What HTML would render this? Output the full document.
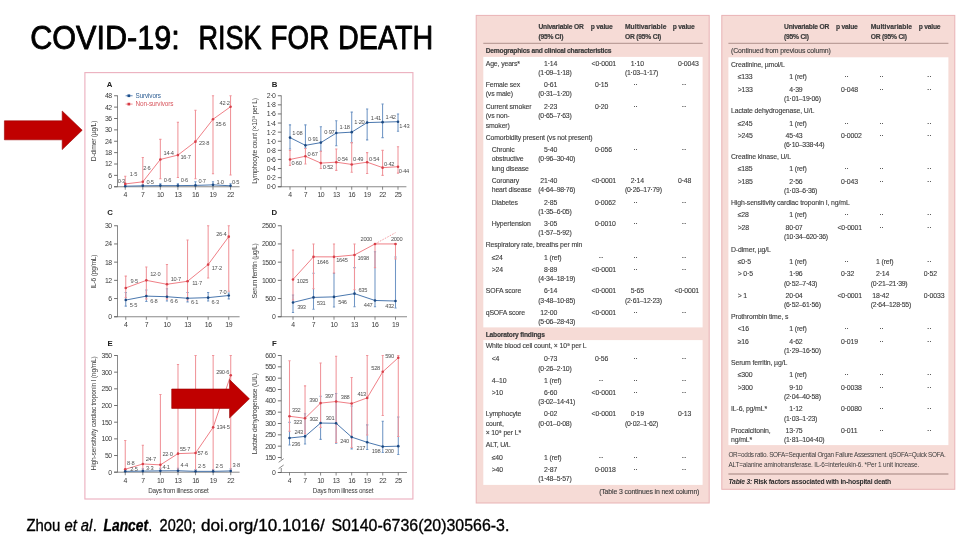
<!DOCTYPE html>
<html><head><meta charset="utf-8"><title>COVID-19: Risk for death</title>
<style>html,body{margin:0;padding:0;background:#fff;}body{width:960px;height:540px;overflow:hidden;font-family:"Liberation Sans",sans-serif;}svg{display:block;}text{font-family:"Liberation Sans",sans-serif;}</style>
</head><body>
<svg width="960" height="540" viewBox="0 0 960 540">
<defs><filter id="blur" x="-2%" y="-2%" width="104%" height="104%"><feGaussianBlur stdDeviation="0.5"/></filter><filter id="blur2" x="-5%" y="-20%" width="110%" height="140%"><feGaussianBlur stdDeviation="0.35"/></filter></defs>
<rect width="960" height="540" fill="#fff"/>
<g filter="url(#blur2)">
<text x="30.2" y="48.9" font-size="33.7" fill="#000" stroke="#000" stroke-width="0.85" stroke-linejoin="round" textLength="149.6" lengthAdjust="spacingAndGlyphs">COVID-19:</text>
<text x="198.4" y="48.9" font-size="33.7" fill="#000" stroke="#000" stroke-width="0.85" stroke-linejoin="round" textLength="63.2" lengthAdjust="spacingAndGlyphs">RISK</text>
<text x="270.6" y="48.9" font-size="33.7" fill="#000" stroke="#000" stroke-width="0.85" stroke-linejoin="round" textLength="58.6" lengthAdjust="spacingAndGlyphs">FOR</text>
<text x="338.0" y="48.9" font-size="33.7" fill="#000" stroke="#000" stroke-width="0.85" stroke-linejoin="round" textLength="95.2" lengthAdjust="spacingAndGlyphs">DEATH</text>
</g>
<g filter="url(#blur)" font-family="Liberation Sans, sans-serif">
<rect x="84.9" y="72.6" width="328.0" height="426.4" fill="#fff" stroke="#ecb2c0" stroke-width="1.15"/>
<text x="109.60" y="86.80" font-size="7.8" text-anchor="middle" font-weight="bold" fill="#222">A</text>
<path d="M125.25 185.04V186.75M124.15 185.04h2.2" stroke="#7096c5" stroke-width="1.05" fill="none"/>
<path d="M142.80 184.47V186.75M141.70 184.47h2.2" stroke="#7096c5" stroke-width="1.05" fill="none"/>
<path d="M160.35 183.72V186.75M159.25 183.72h2.2" stroke="#7096c5" stroke-width="1.05" fill="none"/>
<path d="M177.90 183.72V186.75M176.80 183.72h2.2" stroke="#7096c5" stroke-width="1.05" fill="none"/>
<path d="M195.45 181.82V186.75M194.35 181.82h2.2" stroke="#7096c5" stroke-width="1.05" fill="none"/>
<path d="M213.00 181.82V186.75M211.90 181.82h2.2" stroke="#7096c5" stroke-width="1.05" fill="none"/>
<path d="M230.55 183.72V186.75M229.45 183.72h2.2" stroke="#7096c5" stroke-width="1.05" fill="none"/>
<path d="M125.25 176.32V186.37M124.15 176.32h2.2" stroke="#f0949a" stroke-width="1.05" fill="none"/>
<path d="M142.80 157.55V185.99M141.70 157.55h2.2M141.70 185.99h2.2" stroke="#f0949a" stroke-width="1.05" fill="none"/>
<path d="M160.35 139.35V178.79M159.25 139.35h2.2M159.25 178.79h2.2" stroke="#f0949a" stroke-width="1.05" fill="none"/>
<path d="M177.90 122.29V177.46M176.80 122.29h2.2M176.80 177.46h2.2" stroke="#f0949a" stroke-width="1.05" fill="none"/>
<path d="M195.45 110.16V178.79M194.35 110.16h2.2M194.35 178.79h2.2" stroke="#f0949a" stroke-width="1.05" fill="none"/>
<path d="M213.00 95.75V173.67M211.90 95.75h2.2M211.90 173.67h2.2" stroke="#f0949a" stroke-width="1.05" fill="none"/>
<path d="M230.55 95.75V175.00M229.45 95.75h2.2M229.45 175.00h2.2" stroke="#f0949a" stroke-width="1.05" fill="none"/>
<path d="M117.50 95.45V186.75" stroke="#585858" stroke-width="0.7" fill="none"/>
<path d="M114.10 186.75H239.60" stroke="#585858" stroke-width="0.7" fill="none"/>
<line x1="114.10" y1="186.75" x2="117.50" y2="186.75" stroke="#585858" stroke-width="0.85"/>
<text x="111.70" y="189.20" font-size="6.9" text-anchor="end" letter-spacing="-0.45" fill="#3a3a3a">0</text>
<line x1="114.10" y1="175.38" x2="117.50" y2="175.38" stroke="#585858" stroke-width="0.85"/>
<text x="111.70" y="177.82" font-size="6.9" text-anchor="end" letter-spacing="-0.45" fill="#3a3a3a">6</text>
<line x1="114.10" y1="164.00" x2="117.50" y2="164.00" stroke="#585858" stroke-width="0.85"/>
<text x="111.70" y="166.45" font-size="6.9" text-anchor="end" letter-spacing="-0.45" fill="#3a3a3a">12</text>
<line x1="114.10" y1="152.62" x2="117.50" y2="152.62" stroke="#585858" stroke-width="0.85"/>
<text x="111.70" y="155.07" font-size="6.9" text-anchor="end" letter-spacing="-0.45" fill="#3a3a3a">18</text>
<line x1="114.10" y1="141.25" x2="117.50" y2="141.25" stroke="#585858" stroke-width="0.85"/>
<text x="111.70" y="143.70" font-size="6.9" text-anchor="end" letter-spacing="-0.45" fill="#3a3a3a">24</text>
<line x1="114.10" y1="129.88" x2="117.50" y2="129.88" stroke="#585858" stroke-width="0.85"/>
<text x="111.70" y="132.32" font-size="6.9" text-anchor="end" letter-spacing="-0.45" fill="#3a3a3a">30</text>
<line x1="114.10" y1="118.50" x2="117.50" y2="118.50" stroke="#585858" stroke-width="0.85"/>
<text x="111.70" y="120.95" font-size="6.9" text-anchor="end" letter-spacing="-0.45" fill="#3a3a3a">36</text>
<line x1="114.10" y1="107.12" x2="117.50" y2="107.12" stroke="#585858" stroke-width="0.85"/>
<text x="111.70" y="109.58" font-size="6.9" text-anchor="end" letter-spacing="-0.45" fill="#3a3a3a">42</text>
<line x1="114.10" y1="95.75" x2="117.50" y2="95.75" stroke="#585858" stroke-width="0.85"/>
<text x="111.70" y="98.20" font-size="6.9" text-anchor="end" letter-spacing="-0.45" fill="#3a3a3a">48</text>
<line x1="125.25" y1="186.75" x2="125.25" y2="189.75" stroke="#585858" stroke-width="0.7"/>
<text x="125.25" y="197.15" font-size="6.9" text-anchor="middle" letter-spacing="-0.45" fill="#3a3a3a">4</text>
<line x1="142.80" y1="186.75" x2="142.80" y2="189.75" stroke="#585858" stroke-width="0.7"/>
<text x="142.80" y="197.15" font-size="6.9" text-anchor="middle" letter-spacing="-0.45" fill="#3a3a3a">7</text>
<line x1="160.35" y1="186.75" x2="160.35" y2="189.75" stroke="#585858" stroke-width="0.7"/>
<text x="160.35" y="197.15" font-size="6.9" text-anchor="middle" letter-spacing="-0.45" fill="#3a3a3a">10</text>
<line x1="177.90" y1="186.75" x2="177.90" y2="189.75" stroke="#585858" stroke-width="0.7"/>
<text x="177.90" y="197.15" font-size="6.9" text-anchor="middle" letter-spacing="-0.45" fill="#3a3a3a">13</text>
<line x1="195.45" y1="186.75" x2="195.45" y2="189.75" stroke="#585858" stroke-width="0.7"/>
<text x="195.45" y="197.15" font-size="6.9" text-anchor="middle" letter-spacing="-0.45" fill="#3a3a3a">16</text>
<line x1="213.00" y1="186.75" x2="213.00" y2="189.75" stroke="#585858" stroke-width="0.7"/>
<text x="213.00" y="197.15" font-size="6.9" text-anchor="middle" letter-spacing="-0.45" fill="#3a3a3a">19</text>
<line x1="230.55" y1="186.75" x2="230.55" y2="189.75" stroke="#585858" stroke-width="0.7"/>
<text x="230.55" y="197.15" font-size="6.9" text-anchor="middle" letter-spacing="-0.45" fill="#3a3a3a">22</text>
<polyline points="125.25,183.91 142.80,181.82 160.35,159.45 177.90,155.09 195.45,141.63 213.00,119.26 230.55,106.75" fill="none" stroke="#ee7880" stroke-width="0.95"/>
<polyline points="125.25,186.18 142.80,185.80 160.35,185.61 177.90,185.61 195.45,185.42 213.00,184.85 230.55,185.80" fill="none" stroke="#4070aa" stroke-width="0.95"/>
<circle cx="125.25" cy="183.91" r="1.3" fill="#d8404a"/>
<circle cx="142.80" cy="181.82" r="1.3" fill="#d8404a"/>
<circle cx="160.35" cy="159.45" r="1.3" fill="#d8404a"/>
<circle cx="177.90" cy="155.09" r="1.3" fill="#d8404a"/>
<circle cx="195.45" cy="141.63" r="1.3" fill="#d8404a"/>
<circle cx="213.00" cy="119.26" r="1.3" fill="#d8404a"/>
<circle cx="230.55" cy="106.75" r="1.3" fill="#d8404a"/>
<circle cx="125.25" cy="186.18" r="1.3" fill="#1d4a82"/>
<circle cx="142.80" cy="185.80" r="1.3" fill="#1d4a82"/>
<circle cx="160.35" cy="185.61" r="1.3" fill="#1d4a82"/>
<circle cx="177.90" cy="185.61" r="1.3" fill="#1d4a82"/>
<circle cx="195.45" cy="185.42" r="1.3" fill="#1d4a82"/>
<circle cx="213.00" cy="184.85" r="1.3" fill="#1d4a82"/>
<circle cx="230.55" cy="185.80" r="1.3" fill="#1d4a82"/>
<text x="129.85" y="176.31" font-size="5.7" letter-spacing="-0.32" fill="#505050">1·5</text>
<text x="143.20" y="170.02" font-size="5.7" letter-spacing="-0.32" fill="#505050">2·6</text>
<text x="163.55" y="155.05" font-size="5.7" letter-spacing="-0.32" fill="#505050">14·4</text>
<text x="180.50" y="159.29" font-size="5.7" letter-spacing="-0.32" fill="#505050">16·7</text>
<text x="198.95" y="144.83" font-size="5.7" letter-spacing="-0.32" fill="#505050">23·8</text>
<text x="215.60" y="125.86" font-size="5.7" letter-spacing="-0.32" fill="#505050">35·6</text>
<text x="219.55" y="104.55" font-size="5.7" letter-spacing="-0.32" fill="#505050">42·2</text>
<text x="117.65" y="182.58" font-size="5.7" letter-spacing="-0.32" fill="#505050">0·3</text>
<text x="146.40" y="184.00" font-size="5.7" letter-spacing="-0.32" fill="#505050">0·5</text>
<text x="163.75" y="182.01" font-size="5.7" letter-spacing="-0.32" fill="#505050">0·6</text>
<text x="180.70" y="182.01" font-size="5.7" letter-spacing="-0.32" fill="#505050">0·6</text>
<text x="198.45" y="183.42" font-size="5.7" letter-spacing="-0.32" fill="#505050">0·7</text>
<text x="216.40" y="184.05" font-size="5.7" letter-spacing="-0.32" fill="#505050">1·0</text>
<text x="231.95" y="184.40" font-size="5.7" letter-spacing="-0.32" fill="#505050">0·5</text>
<text transform="translate(96.20 141.00) rotate(-90)" font-size="6.75" text-anchor="middle" fill="#3a3a3a" letter-spacing="-0.24">D-dimer (µg/L)</text>
<line x1="125.6" y1="95.75" x2="132.6" y2="95.75" stroke="#4070aa" stroke-width="0.8"/><rect x="127.5" y="94.4" width="2.7" height="2.7" fill="#1f4f8c"/>
<line x1="125.6" y1="104.1" x2="132.6" y2="104.1" stroke="#ee7880" stroke-width="0.8"/><rect x="127.5" y="102.75" width="2.7" height="2.7" fill="#d63a44"/>
<text x="135.60" y="98.00" font-size="6.4" letter-spacing="-0.16" fill="#2f5f94">Survivors</text>
<text x="135.60" y="106.30" font-size="6.4" letter-spacing="-0.14" fill="#d8555d">Non-survivors</text>
<text x="274.50" y="86.80" font-size="7.8" text-anchor="middle" font-weight="bold" fill="#222">B</text>
<path d="M290.00 124.87V148.99M288.90 124.87h2.2M288.90 148.99h2.2" stroke="#7096c5" stroke-width="1.05" fill="none"/>
<path d="M305.43 124.87V148.07M304.33 124.87h2.2M304.33 148.07h2.2" stroke="#7096c5" stroke-width="1.05" fill="none"/>
<path d="M320.86 126.69V151.26M319.76 126.69h2.2M319.76 151.26h2.2" stroke="#7096c5" stroke-width="1.05" fill="none"/>
<path d="M336.29 120.78V145.80M335.19 120.78h2.2M335.19 145.80h2.2" stroke="#7096c5" stroke-width="1.05" fill="none"/>
<path d="M351.72 112.13V142.62M350.62 112.13h2.2M350.62 142.62h2.2" stroke="#7096c5" stroke-width="1.05" fill="none"/>
<path d="M367.15 108.95V139.88M366.05 108.95h2.2M366.05 139.88h2.2" stroke="#7096c5" stroke-width="1.05" fill="none"/>
<path d="M382.58 103.94V137.61M381.48 103.94h2.2M381.48 137.61h2.2" stroke="#7096c5" stroke-width="1.05" fill="none"/>
<path d="M398.01 113.95V131.24M396.91 113.95h2.2M396.91 131.24h2.2" stroke="#7096c5" stroke-width="1.05" fill="none"/>
<path d="M290.00 150.35V165.37M288.90 150.35h2.2M288.90 165.37h2.2" stroke="#f0949a" stroke-width="1.05" fill="none"/>
<path d="M305.43 148.53V164.00M304.33 148.53h2.2M304.33 164.00h2.2" stroke="#f0949a" stroke-width="1.05" fill="none"/>
<path d="M320.86 151.26V168.55M319.76 151.26h2.2M319.76 168.55h2.2" stroke="#f0949a" stroke-width="1.05" fill="none"/>
<path d="M336.29 148.99V170.37M335.19 148.99h2.2M335.19 170.37h2.2" stroke="#f0949a" stroke-width="1.05" fill="none"/>
<path d="M351.72 142.62V172.19M350.62 142.62h2.2M350.62 172.19h2.2" stroke="#f0949a" stroke-width="1.05" fill="none"/>
<path d="M367.15 152.62V173.56M366.05 152.62h2.2M366.05 173.56h2.2" stroke="#f0949a" stroke-width="1.05" fill="none"/>
<path d="M382.58 150.35V175.38M381.48 150.35h2.2M381.48 175.38h2.2" stroke="#f0949a" stroke-width="1.05" fill="none"/>
<path d="M398.01 146.71V173.10M396.91 146.71h2.2M396.91 173.10h2.2" stroke="#f0949a" stroke-width="1.05" fill="none"/>
<path d="M281.25 95.45V186.75" stroke="#585858" stroke-width="0.7" fill="none"/>
<path d="M277.85 186.75H406.40" stroke="#585858" stroke-width="0.7" fill="none"/>
<line x1="277.85" y1="186.75" x2="281.25" y2="186.75" stroke="#585858" stroke-width="0.85"/>
<text x="275.45" y="189.20" font-size="6.9" text-anchor="end" letter-spacing="-0.45" fill="#3a3a3a">0·0</text>
<line x1="277.85" y1="177.65" x2="281.25" y2="177.65" stroke="#585858" stroke-width="0.85"/>
<text x="275.45" y="180.10" font-size="6.9" text-anchor="end" letter-spacing="-0.45" fill="#3a3a3a">0·2</text>
<line x1="277.85" y1="168.55" x2="281.25" y2="168.55" stroke="#585858" stroke-width="0.85"/>
<text x="275.45" y="171.00" font-size="6.9" text-anchor="end" letter-spacing="-0.45" fill="#3a3a3a">0·4</text>
<line x1="277.85" y1="159.45" x2="281.25" y2="159.45" stroke="#585858" stroke-width="0.85"/>
<text x="275.45" y="161.90" font-size="6.9" text-anchor="end" letter-spacing="-0.45" fill="#3a3a3a">0·6</text>
<line x1="277.85" y1="150.35" x2="281.25" y2="150.35" stroke="#585858" stroke-width="0.85"/>
<text x="275.45" y="152.80" font-size="6.9" text-anchor="end" letter-spacing="-0.45" fill="#3a3a3a">0·8</text>
<line x1="277.85" y1="141.25" x2="281.25" y2="141.25" stroke="#585858" stroke-width="0.85"/>
<text x="275.45" y="143.70" font-size="6.9" text-anchor="end" letter-spacing="-0.45" fill="#3a3a3a">1·0</text>
<line x1="277.85" y1="132.15" x2="281.25" y2="132.15" stroke="#585858" stroke-width="0.85"/>
<text x="275.45" y="134.60" font-size="6.9" text-anchor="end" letter-spacing="-0.45" fill="#3a3a3a">1·2</text>
<line x1="277.85" y1="123.05" x2="281.25" y2="123.05" stroke="#585858" stroke-width="0.85"/>
<text x="275.45" y="125.50" font-size="6.9" text-anchor="end" letter-spacing="-0.45" fill="#3a3a3a">1·4</text>
<line x1="277.85" y1="113.95" x2="281.25" y2="113.95" stroke="#585858" stroke-width="0.85"/>
<text x="275.45" y="116.40" font-size="6.9" text-anchor="end" letter-spacing="-0.45" fill="#3a3a3a">1·6</text>
<line x1="277.85" y1="104.85" x2="281.25" y2="104.85" stroke="#585858" stroke-width="0.85"/>
<text x="275.45" y="107.30" font-size="6.9" text-anchor="end" letter-spacing="-0.45" fill="#3a3a3a">1·8</text>
<line x1="277.85" y1="95.75" x2="281.25" y2="95.75" stroke="#585858" stroke-width="0.85"/>
<text x="275.45" y="98.20" font-size="6.9" text-anchor="end" letter-spacing="-0.45" fill="#3a3a3a">2·0</text>
<line x1="290.00" y1="186.75" x2="290.00" y2="189.75" stroke="#585858" stroke-width="0.7"/>
<text x="290.00" y="197.15" font-size="6.9" text-anchor="middle" letter-spacing="-0.45" fill="#3a3a3a">4</text>
<line x1="305.43" y1="186.75" x2="305.43" y2="189.75" stroke="#585858" stroke-width="0.7"/>
<text x="305.43" y="197.15" font-size="6.9" text-anchor="middle" letter-spacing="-0.45" fill="#3a3a3a">7</text>
<line x1="320.86" y1="186.75" x2="320.86" y2="189.75" stroke="#585858" stroke-width="0.7"/>
<text x="320.86" y="197.15" font-size="6.9" text-anchor="middle" letter-spacing="-0.45" fill="#3a3a3a">10</text>
<line x1="336.29" y1="186.75" x2="336.29" y2="189.75" stroke="#585858" stroke-width="0.7"/>
<text x="336.29" y="197.15" font-size="6.9" text-anchor="middle" letter-spacing="-0.45" fill="#3a3a3a">13</text>
<line x1="351.72" y1="186.75" x2="351.72" y2="189.75" stroke="#585858" stroke-width="0.7"/>
<text x="351.72" y="197.15" font-size="6.9" text-anchor="middle" letter-spacing="-0.45" fill="#3a3a3a">16</text>
<line x1="367.15" y1="186.75" x2="367.15" y2="189.75" stroke="#585858" stroke-width="0.7"/>
<text x="367.15" y="197.15" font-size="6.9" text-anchor="middle" letter-spacing="-0.45" fill="#3a3a3a">19</text>
<line x1="382.58" y1="186.75" x2="382.58" y2="189.75" stroke="#585858" stroke-width="0.7"/>
<text x="382.58" y="197.15" font-size="6.9" text-anchor="middle" letter-spacing="-0.45" fill="#3a3a3a">22</text>
<line x1="398.01" y1="186.75" x2="398.01" y2="189.75" stroke="#585858" stroke-width="0.7"/>
<text x="398.01" y="197.15" font-size="6.9" text-anchor="middle" letter-spacing="-0.45" fill="#3a3a3a">25</text>
<polyline points="290.00,159.45 305.43,156.26 320.86,163.09 336.29,162.18 351.72,164.46 367.15,162.18 382.58,167.64 398.01,166.73" fill="none" stroke="#ee7880" stroke-width="0.95"/>
<polyline points="290.00,137.61 305.43,145.34 320.86,142.62 336.29,133.06 351.72,132.15 367.15,122.59 382.58,122.14 398.01,121.69" fill="none" stroke="#4070aa" stroke-width="0.95"/>
<circle cx="290.00" cy="159.45" r="1.3" fill="#d8404a"/>
<circle cx="305.43" cy="156.26" r="1.3" fill="#d8404a"/>
<circle cx="320.86" cy="163.09" r="1.3" fill="#d8404a"/>
<circle cx="336.29" cy="162.18" r="1.3" fill="#d8404a"/>
<circle cx="351.72" cy="164.46" r="1.3" fill="#d8404a"/>
<circle cx="367.15" cy="162.18" r="1.3" fill="#d8404a"/>
<circle cx="382.58" cy="167.64" r="1.3" fill="#d8404a"/>
<circle cx="398.01" cy="166.73" r="1.3" fill="#d8404a"/>
<circle cx="290.00" cy="137.61" r="1.3" fill="#1d4a82"/>
<circle cx="305.43" cy="145.34" r="1.3" fill="#1d4a82"/>
<circle cx="320.86" cy="142.62" r="1.3" fill="#1d4a82"/>
<circle cx="336.29" cy="133.06" r="1.3" fill="#1d4a82"/>
<circle cx="351.72" cy="132.15" r="1.3" fill="#1d4a82"/>
<circle cx="367.15" cy="122.59" r="1.3" fill="#1d4a82"/>
<circle cx="382.58" cy="122.14" r="1.3" fill="#1d4a82"/>
<circle cx="398.01" cy="121.69" r="1.3" fill="#1d4a82"/>
<text x="291.40" y="164.65" font-size="5.7" letter-spacing="-0.32" fill="#505050">0·60</text>
<text x="307.43" y="155.66" font-size="5.7" letter-spacing="-0.32" fill="#505050">0·67</text>
<text x="322.86" y="168.89" font-size="5.7" letter-spacing="-0.32" fill="#505050">0·52</text>
<text x="337.49" y="160.78" font-size="5.7" letter-spacing="-0.32" fill="#505050">0·54</text>
<text x="353.12" y="161.06" font-size="5.7" letter-spacing="-0.32" fill="#505050">0·49</text>
<text x="368.95" y="160.98" font-size="5.7" letter-spacing="-0.32" fill="#505050">0·54</text>
<text x="383.98" y="166.24" font-size="5.7" letter-spacing="-0.32" fill="#505050">0·42</text>
<text x="398.81" y="173.13" font-size="5.7" letter-spacing="-0.32" fill="#505050">0·44</text>
<text x="292.20" y="134.61" font-size="5.7" letter-spacing="-0.32" fill="#505050">1·08</text>
<text x="308.03" y="141.34" font-size="5.7" letter-spacing="-0.32" fill="#505050">0·91</text>
<text x="324.26" y="134.42" font-size="5.7" letter-spacing="-0.32" fill="#505050">0·97</text>
<text x="339.49" y="129.06" font-size="5.7" letter-spacing="-0.32" fill="#505050">1·18</text>
<text x="354.32" y="124.35" font-size="5.7" letter-spacing="-0.32" fill="#505050">1·20</text>
<text x="370.75" y="119.80" font-size="5.7" letter-spacing="-0.32" fill="#505050">1·41</text>
<text x="385.58" y="119.34" font-size="5.7" letter-spacing="-0.32" fill="#505050">1·42</text>
<text x="399.21" y="128.09" font-size="5.7" letter-spacing="-0.32" fill="#505050">1·43</text>
<text transform="translate(257.00 141.00) rotate(-90)" font-size="6.75" text-anchor="middle" fill="#3a3a3a" letter-spacing="-0.24">Lymphocyte count (×10⁹ per L)</text>
<text x="110.00" y="214.60" font-size="7.8" text-anchor="middle" font-weight="bold" fill="#222">C</text>
<path d="M125.75 292.48V306.13M124.65 292.48h2.2M124.65 306.13h2.2" stroke="#7096c5" stroke-width="1.05" fill="none"/>
<path d="M146.35 290.06V301.58M145.25 290.06h2.2M145.25 301.58h2.2" stroke="#7096c5" stroke-width="1.05" fill="none"/>
<path d="M166.95 288.84V300.98M165.85 288.84h2.2M165.85 300.98h2.2" stroke="#7096c5" stroke-width="1.05" fill="none"/>
<path d="M187.55 292.48V301.89M186.45 292.48h2.2M186.45 301.89h2.2" stroke="#7096c5" stroke-width="1.05" fill="none"/>
<path d="M208.15 292.48V300.98M207.05 292.48h2.2M207.05 300.98h2.2" stroke="#7096c5" stroke-width="1.05" fill="none"/>
<path d="M228.75 293.09V298.85M227.65 293.09h2.2M227.65 298.85h2.2" stroke="#7096c5" stroke-width="1.05" fill="none"/>
<path d="M125.75 276.10V297.64M124.65 276.10h2.2M124.65 297.64h2.2" stroke="#f0949a" stroke-width="1.05" fill="none"/>
<path d="M146.35 267.00V298.85M145.25 267.00h2.2M145.25 298.85h2.2" stroke="#f0949a" stroke-width="1.05" fill="none"/>
<path d="M166.95 264.58V298.85M165.85 264.58h2.2M165.85 298.85h2.2" stroke="#f0949a" stroke-width="1.05" fill="none"/>
<path d="M187.55 240.01V300.07M186.45 240.01h2.2M186.45 300.07h2.2" stroke="#f0949a" stroke-width="1.05" fill="none"/>
<path d="M208.15 225.75V277.92M207.05 225.75h2.2M207.05 277.92h2.2" stroke="#f0949a" stroke-width="1.05" fill="none"/>
<path d="M228.75 225.75V291.27M227.65 225.75h2.2M227.65 291.27h2.2" stroke="#f0949a" stroke-width="1.05" fill="none"/>
<path d="M117.50 225.45V316.75" stroke="#585858" stroke-width="0.7" fill="none"/>
<path d="M114.10 316.75H239.60" stroke="#585858" stroke-width="0.7" fill="none"/>
<line x1="114.10" y1="316.75" x2="117.50" y2="316.75" stroke="#585858" stroke-width="0.85"/>
<text x="111.70" y="319.20" font-size="6.9" text-anchor="end" letter-spacing="-0.45" fill="#3a3a3a">0</text>
<line x1="114.10" y1="298.55" x2="117.50" y2="298.55" stroke="#585858" stroke-width="0.85"/>
<text x="111.70" y="301.00" font-size="6.9" text-anchor="end" letter-spacing="-0.45" fill="#3a3a3a">6</text>
<line x1="114.10" y1="280.35" x2="117.50" y2="280.35" stroke="#585858" stroke-width="0.85"/>
<text x="111.70" y="282.80" font-size="6.9" text-anchor="end" letter-spacing="-0.45" fill="#3a3a3a">12</text>
<line x1="114.10" y1="262.15" x2="117.50" y2="262.15" stroke="#585858" stroke-width="0.85"/>
<text x="111.70" y="264.60" font-size="6.9" text-anchor="end" letter-spacing="-0.45" fill="#3a3a3a">18</text>
<line x1="114.10" y1="243.95" x2="117.50" y2="243.95" stroke="#585858" stroke-width="0.85"/>
<text x="111.70" y="246.40" font-size="6.9" text-anchor="end" letter-spacing="-0.45" fill="#3a3a3a">24</text>
<line x1="114.10" y1="225.75" x2="117.50" y2="225.75" stroke="#585858" stroke-width="0.85"/>
<text x="111.70" y="228.20" font-size="6.9" text-anchor="end" letter-spacing="-0.45" fill="#3a3a3a">30</text>
<line x1="125.75" y1="316.75" x2="125.75" y2="319.75" stroke="#585858" stroke-width="0.7"/>
<text x="125.75" y="327.15" font-size="6.9" text-anchor="middle" letter-spacing="-0.45" fill="#3a3a3a">4</text>
<line x1="146.35" y1="316.75" x2="146.35" y2="319.75" stroke="#585858" stroke-width="0.7"/>
<text x="146.35" y="327.15" font-size="6.9" text-anchor="middle" letter-spacing="-0.45" fill="#3a3a3a">7</text>
<line x1="166.95" y1="316.75" x2="166.95" y2="319.75" stroke="#585858" stroke-width="0.7"/>
<text x="166.95" y="327.15" font-size="6.9" text-anchor="middle" letter-spacing="-0.45" fill="#3a3a3a">10</text>
<line x1="187.55" y1="316.75" x2="187.55" y2="319.75" stroke="#585858" stroke-width="0.7"/>
<text x="187.55" y="327.15" font-size="6.9" text-anchor="middle" letter-spacing="-0.45" fill="#3a3a3a">13</text>
<line x1="208.15" y1="316.75" x2="208.15" y2="319.75" stroke="#585858" stroke-width="0.7"/>
<text x="208.15" y="327.15" font-size="6.9" text-anchor="middle" letter-spacing="-0.45" fill="#3a3a3a">16</text>
<line x1="228.75" y1="316.75" x2="228.75" y2="319.75" stroke="#585858" stroke-width="0.7"/>
<text x="228.75" y="327.15" font-size="6.9" text-anchor="middle" letter-spacing="-0.45" fill="#3a3a3a">19</text>
<polyline points="125.75,287.93 146.35,280.35 166.95,284.29 187.55,281.26 208.15,264.58 228.75,236.67" fill="none" stroke="#ee7880" stroke-width="0.95"/>
<polyline points="125.75,300.07 146.35,296.12 166.95,296.73 187.55,298.25 208.15,297.64 228.75,295.52" fill="none" stroke="#4070aa" stroke-width="0.95"/>
<circle cx="125.75" cy="287.93" r="1.3" fill="#d8404a"/>
<circle cx="146.35" cy="280.35" r="1.3" fill="#d8404a"/>
<circle cx="166.95" cy="284.29" r="1.3" fill="#d8404a"/>
<circle cx="187.55" cy="281.26" r="1.3" fill="#d8404a"/>
<circle cx="208.15" cy="264.58" r="1.3" fill="#d8404a"/>
<circle cx="228.75" cy="236.67" r="1.3" fill="#d8404a"/>
<circle cx="125.75" cy="300.07" r="1.3" fill="#1d4a82"/>
<circle cx="146.35" cy="296.12" r="1.3" fill="#1d4a82"/>
<circle cx="166.95" cy="296.73" r="1.3" fill="#1d4a82"/>
<circle cx="187.55" cy="298.25" r="1.3" fill="#1d4a82"/>
<circle cx="208.15" cy="297.64" r="1.3" fill="#1d4a82"/>
<circle cx="228.75" cy="295.52" r="1.3" fill="#1d4a82"/>
<text x="130.55" y="282.53" font-size="5.7" letter-spacing="-0.32" fill="#505050">9·5</text>
<text x="150.15" y="276.35" font-size="5.7" letter-spacing="-0.32" fill="#505050">12·0</text>
<text x="170.75" y="281.29" font-size="5.7" letter-spacing="-0.32" fill="#505050">10·7</text>
<text x="192.15" y="285.06" font-size="5.7" letter-spacing="-0.32" fill="#505050">11·7</text>
<text x="211.75" y="269.78" font-size="5.7" letter-spacing="-0.32" fill="#505050">17·2</text>
<text x="216.15" y="236.07" font-size="5.7" letter-spacing="-0.32" fill="#505050">26·4</text>
<text x="129.75" y="307.27" font-size="5.7" letter-spacing="-0.32" fill="#505050">5·5</text>
<text x="150.15" y="302.52" font-size="5.7" letter-spacing="-0.32" fill="#505050">6·8</text>
<text x="170.35" y="303.33" font-size="5.7" letter-spacing="-0.32" fill="#505050">6·6</text>
<text x="190.95" y="303.85" font-size="5.7" letter-spacing="-0.32" fill="#505050">6·1</text>
<text x="211.55" y="304.04" font-size="5.7" letter-spacing="-0.32" fill="#505050">6·3</text>
<text x="219.15" y="293.92" font-size="5.7" letter-spacing="-0.32" fill="#505050">7·0</text>
<text transform="translate(96.20 271.60) rotate(-90)" font-size="6.75" text-anchor="middle" fill="#3a3a3a" letter-spacing="-0.24">IL-6 (pg/mL)</text>
<text x="274.30" y="214.60" font-size="7.8" text-anchor="middle" font-weight="bold" fill="#222">D</text>
<path d="M293.00 294.91V312.56M291.90 294.91h2.2M291.90 312.56h2.2" stroke="#7096c5" stroke-width="1.05" fill="none"/>
<path d="M313.50 273.25V309.29M312.40 273.25h2.2M312.40 309.29h2.2" stroke="#7096c5" stroke-width="1.05" fill="none"/>
<path d="M334.00 273.25V306.92M332.90 273.25h2.2M332.90 306.92h2.2" stroke="#7096c5" stroke-width="1.05" fill="none"/>
<path d="M354.50 267.61V306.74M353.40 267.61h2.2M353.40 306.74h2.2" stroke="#7096c5" stroke-width="1.05" fill="none"/>
<path d="M375.00 251.78V306.74M373.90 251.78h2.2M373.90 306.74h2.2" stroke="#7096c5" stroke-width="1.05" fill="none"/>
<path d="M395.50 257.05V308.01M394.40 257.05h2.2M394.40 308.01h2.2" stroke="#7096c5" stroke-width="1.05" fill="none"/>
<path d="M293.00 250.14V300.01M291.90 250.14h2.2M291.90 300.01h2.2" stroke="#f0949a" stroke-width="1.05" fill="none"/>
<path d="M313.50 243.95V288.72M312.40 243.95h2.2M312.40 288.72h2.2" stroke="#f0949a" stroke-width="1.05" fill="none"/>
<path d="M334.00 243.95V273.07M332.90 243.95h2.2M332.90 273.07h2.2" stroke="#f0949a" stroke-width="1.05" fill="none"/>
<path d="M354.50 243.95V289.81M353.40 243.95h2.2M353.40 289.81h2.2" stroke="#f0949a" stroke-width="1.05" fill="none"/>
<path d="M375.00 243.95V267.61M373.90 243.95h2.2M373.90 267.61h2.2" stroke="#f0949a" stroke-width="1.05" fill="none"/>
<path d="M395.50 243.95V258.87M394.40 243.95h2.2M394.40 258.87h2.2" stroke="#f0949a" stroke-width="1.05" fill="none"/>
<path d="M281.25 225.45V316.75" stroke="#585858" stroke-width="0.7" fill="none"/>
<path d="M277.85 316.75H407.00" stroke="#585858" stroke-width="0.7" fill="none"/>
<line x1="277.85" y1="316.75" x2="281.25" y2="316.75" stroke="#585858" stroke-width="0.85"/>
<text x="275.45" y="319.20" font-size="6.9" text-anchor="end" letter-spacing="-0.45" fill="#3a3a3a">0</text>
<line x1="277.85" y1="298.55" x2="281.25" y2="298.55" stroke="#585858" stroke-width="0.85"/>
<text x="275.45" y="301.00" font-size="6.9" text-anchor="end" letter-spacing="-0.45" fill="#3a3a3a">500</text>
<line x1="277.85" y1="280.35" x2="281.25" y2="280.35" stroke="#585858" stroke-width="0.85"/>
<text x="275.45" y="282.80" font-size="6.9" text-anchor="end" letter-spacing="-0.45" fill="#3a3a3a">1000</text>
<line x1="277.85" y1="262.15" x2="281.25" y2="262.15" stroke="#585858" stroke-width="0.85"/>
<text x="275.45" y="264.60" font-size="6.9" text-anchor="end" letter-spacing="-0.45" fill="#3a3a3a">1500</text>
<line x1="277.85" y1="243.95" x2="281.25" y2="243.95" stroke="#585858" stroke-width="0.85"/>
<text x="275.45" y="246.40" font-size="6.9" text-anchor="end" letter-spacing="-0.45" fill="#3a3a3a">2000</text>
<line x1="277.85" y1="225.75" x2="281.25" y2="225.75" stroke="#585858" stroke-width="0.85"/>
<text x="275.45" y="228.20" font-size="6.9" text-anchor="end" letter-spacing="-0.45" fill="#3a3a3a">2500</text>
<line x1="293.00" y1="316.75" x2="293.00" y2="319.75" stroke="#585858" stroke-width="0.7"/>
<text x="293.00" y="327.15" font-size="6.9" text-anchor="middle" letter-spacing="-0.45" fill="#3a3a3a">4</text>
<line x1="313.50" y1="316.75" x2="313.50" y2="319.75" stroke="#585858" stroke-width="0.7"/>
<text x="313.50" y="327.15" font-size="6.9" text-anchor="middle" letter-spacing="-0.45" fill="#3a3a3a">7</text>
<line x1="334.00" y1="316.75" x2="334.00" y2="319.75" stroke="#585858" stroke-width="0.7"/>
<text x="334.00" y="327.15" font-size="6.9" text-anchor="middle" letter-spacing="-0.45" fill="#3a3a3a">10</text>
<line x1="354.50" y1="316.75" x2="354.50" y2="319.75" stroke="#585858" stroke-width="0.7"/>
<text x="354.50" y="327.15" font-size="6.9" text-anchor="middle" letter-spacing="-0.45" fill="#3a3a3a">13</text>
<line x1="375.00" y1="316.75" x2="375.00" y2="319.75" stroke="#585858" stroke-width="0.7"/>
<text x="375.00" y="327.15" font-size="6.9" text-anchor="middle" letter-spacing="-0.45" fill="#3a3a3a">16</text>
<line x1="395.50" y1="316.75" x2="395.50" y2="319.75" stroke="#585858" stroke-width="0.7"/>
<text x="395.50" y="327.15" font-size="6.9" text-anchor="middle" letter-spacing="-0.45" fill="#3a3a3a">19</text>
<polyline points="293.00,279.44 313.50,256.84 334.00,256.87 354.50,254.94 375.00,243.95 395.50,243.95" fill="none" stroke="#ee7880" stroke-width="0.95"/>
<line x1="375.00" y1="243.95" x2="395.50" y2="232.67" stroke="#ee7880" stroke-width="0.7" stroke-dasharray="1.6 1.2"/>
<polyline points="293.00,302.44 313.50,297.42 334.00,296.88 354.50,293.64 375.00,300.48 395.50,301.03" fill="none" stroke="#4070aa" stroke-width="0.95"/>
<circle cx="293.00" cy="279.44" r="1.3" fill="#d8404a"/>
<circle cx="313.50" cy="256.84" r="1.3" fill="#d8404a"/>
<circle cx="334.00" cy="256.87" r="1.3" fill="#d8404a"/>
<circle cx="354.50" cy="254.94" r="1.3" fill="#d8404a"/>
<circle cx="375.00" cy="243.95" r="1.3" fill="#d8404a"/>
<circle cx="395.50" cy="243.95" r="1.3" fill="#d8404a"/>
<circle cx="293.00" cy="302.44" r="1.3" fill="#1d4a82"/>
<circle cx="313.50" cy="297.42" r="1.3" fill="#1d4a82"/>
<circle cx="334.00" cy="296.88" r="1.3" fill="#1d4a82"/>
<circle cx="354.50" cy="293.64" r="1.3" fill="#1d4a82"/>
<circle cx="375.00" cy="300.48" r="1.3" fill="#1d4a82"/>
<circle cx="395.50" cy="301.03" r="1.3" fill="#1d4a82"/>
<text x="296.80" y="282.84" font-size="5.7" letter-spacing="-0.32" fill="#505050">1025</text>
<text x="316.90" y="263.94" font-size="5.7" letter-spacing="-0.32" fill="#505050">1646</text>
<text x="336.20" y="262.47" font-size="5.7" letter-spacing="-0.32" fill="#505050">1645</text>
<text x="357.50" y="259.74" font-size="5.7" letter-spacing="-0.32" fill="#505050">1698</text>
<text x="360.60" y="240.55" font-size="5.7" letter-spacing="-0.32" fill="#505050">2000</text>
<text x="390.90" y="240.55" font-size="5.7" letter-spacing="-0.32" fill="#505050">2000</text>
<text x="297.20" y="309.24" font-size="5.7" letter-spacing="-0.32" fill="#505050">393</text>
<text x="316.90" y="304.62" font-size="5.7" letter-spacing="-0.32" fill="#505050">531</text>
<text x="338.20" y="304.08" font-size="5.7" letter-spacing="-0.32" fill="#505050">546</text>
<text x="358.50" y="292.04" font-size="5.7" letter-spacing="-0.32" fill="#505050">635</text>
<text x="363.80" y="306.68" font-size="5.7" letter-spacing="-0.32" fill="#505050">447</text>
<text x="385.30" y="308.03" font-size="5.7" letter-spacing="-0.32" fill="#505050">432</text>
<text transform="translate(257.00 271.00) rotate(-90)" font-size="6.75" text-anchor="middle" fill="#3a3a3a" letter-spacing="-0.24">Serum ferritin (µg/L)</text>
<text x="110.00" y="345.90" font-size="7.8" text-anchor="middle" font-weight="bold" fill="#222">E</text>
<path d="M125.25 469.53V472.20M124.15 469.53h2.2" stroke="#7096c5" stroke-width="1.05" fill="none"/>
<path d="M142.83 468.87V472.20M141.73 468.87h2.2" stroke="#7096c5" stroke-width="1.05" fill="none"/>
<path d="M160.41 468.20V472.20M159.31 468.20h2.2" stroke="#7096c5" stroke-width="1.05" fill="none"/>
<path d="M177.99 468.20V472.20M176.89 468.20h2.2" stroke="#7096c5" stroke-width="1.05" fill="none"/>
<path d="M195.57 469.53V472.20M194.47 469.53h2.2" stroke="#7096c5" stroke-width="1.05" fill="none"/>
<path d="M213.15 469.53V472.20M212.05 469.53h2.2" stroke="#7096c5" stroke-width="1.05" fill="none"/>
<path d="M230.73 468.87V472.20M229.63 468.87h2.2" stroke="#7096c5" stroke-width="1.05" fill="none"/>
<path d="M125.25 440.52V472.20M124.15 440.52h2.2" stroke="#f0949a" stroke-width="1.05" fill="none"/>
<path d="M142.83 445.19V472.20M141.73 445.19h2.2" stroke="#f0949a" stroke-width="1.05" fill="none"/>
<path d="M160.41 394.51V472.20M159.31 394.51h2.2" stroke="#f0949a" stroke-width="1.05" fill="none"/>
<path d="M177.99 364.50V472.20M176.89 364.50h2.2" stroke="#f0949a" stroke-width="1.05" fill="none"/>
<path d="M195.57 355.50V472.20M194.47 355.50h2.2" stroke="#f0949a" stroke-width="1.05" fill="none"/>
<path d="M213.15 355.50V472.20M212.05 355.50h2.2" stroke="#f0949a" stroke-width="1.05" fill="none"/>
<path d="M230.73 355.50V472.20M229.63 355.50h2.2" stroke="#f0949a" stroke-width="1.05" fill="none"/>
<path d="M117.50 355.20V472.20" stroke="#585858" stroke-width="0.7" fill="none"/>
<path d="M114.10 472.20H239.60" stroke="#585858" stroke-width="0.7" fill="none"/>
<line x1="114.10" y1="472.20" x2="117.50" y2="472.20" stroke="#585858" stroke-width="0.85"/>
<text x="111.70" y="474.65" font-size="6.9" text-anchor="end" letter-spacing="-0.45" fill="#3a3a3a">0</text>
<line x1="114.10" y1="455.53" x2="117.50" y2="455.53" stroke="#585858" stroke-width="0.85"/>
<text x="111.70" y="457.98" font-size="6.9" text-anchor="end" letter-spacing="-0.45" fill="#3a3a3a">50</text>
<line x1="114.10" y1="438.86" x2="117.50" y2="438.86" stroke="#585858" stroke-width="0.85"/>
<text x="111.70" y="441.31" font-size="6.9" text-anchor="end" letter-spacing="-0.45" fill="#3a3a3a">100</text>
<line x1="114.10" y1="422.19" x2="117.50" y2="422.19" stroke="#585858" stroke-width="0.85"/>
<text x="111.70" y="424.64" font-size="6.9" text-anchor="end" letter-spacing="-0.45" fill="#3a3a3a">150</text>
<line x1="114.10" y1="405.51" x2="117.50" y2="405.51" stroke="#585858" stroke-width="0.85"/>
<text x="111.70" y="407.96" font-size="6.9" text-anchor="end" letter-spacing="-0.45" fill="#3a3a3a">200</text>
<line x1="114.10" y1="388.84" x2="117.50" y2="388.84" stroke="#585858" stroke-width="0.85"/>
<text x="111.70" y="391.29" font-size="6.9" text-anchor="end" letter-spacing="-0.45" fill="#3a3a3a">250</text>
<line x1="114.10" y1="372.17" x2="117.50" y2="372.17" stroke="#585858" stroke-width="0.85"/>
<text x="111.70" y="374.62" font-size="6.9" text-anchor="end" letter-spacing="-0.45" fill="#3a3a3a">300</text>
<line x1="114.10" y1="355.50" x2="117.50" y2="355.50" stroke="#585858" stroke-width="0.85"/>
<text x="111.70" y="357.95" font-size="6.9" text-anchor="end" letter-spacing="-0.45" fill="#3a3a3a">350</text>
<line x1="125.25" y1="472.20" x2="125.25" y2="475.20" stroke="#585858" stroke-width="0.7"/>
<text x="125.25" y="482.60" font-size="6.9" text-anchor="middle" letter-spacing="-0.45" fill="#3a3a3a">4</text>
<line x1="142.83" y1="472.20" x2="142.83" y2="475.20" stroke="#585858" stroke-width="0.7"/>
<text x="142.83" y="482.60" font-size="6.9" text-anchor="middle" letter-spacing="-0.45" fill="#3a3a3a">7</text>
<line x1="160.41" y1="472.20" x2="160.41" y2="475.20" stroke="#585858" stroke-width="0.7"/>
<text x="160.41" y="482.60" font-size="6.9" text-anchor="middle" letter-spacing="-0.45" fill="#3a3a3a">10</text>
<line x1="177.99" y1="472.20" x2="177.99" y2="475.20" stroke="#585858" stroke-width="0.7"/>
<text x="177.99" y="482.60" font-size="6.9" text-anchor="middle" letter-spacing="-0.45" fill="#3a3a3a">13</text>
<line x1="195.57" y1="472.20" x2="195.57" y2="475.20" stroke="#585858" stroke-width="0.7"/>
<text x="195.57" y="482.60" font-size="6.9" text-anchor="middle" letter-spacing="-0.45" fill="#3a3a3a">16</text>
<line x1="213.15" y1="472.20" x2="213.15" y2="475.20" stroke="#585858" stroke-width="0.7"/>
<text x="213.15" y="482.60" font-size="6.9" text-anchor="middle" letter-spacing="-0.45" fill="#3a3a3a">19</text>
<line x1="230.73" y1="472.20" x2="230.73" y2="475.20" stroke="#585858" stroke-width="0.7"/>
<text x="230.73" y="482.60" font-size="6.9" text-anchor="middle" letter-spacing="-0.45" fill="#3a3a3a">22</text>
<polyline points="125.25,469.27 142.83,463.96 160.41,464.86 177.99,453.63 195.57,452.99 213.15,427.35 230.73,375.31" fill="none" stroke="#ee7880" stroke-width="0.95"/>
<polyline points="125.25,471.37 142.83,471.10 160.41,470.83 177.99,470.73 195.57,471.37 213.15,471.37 230.73,470.93" fill="none" stroke="#4070aa" stroke-width="0.95"/>
<circle cx="125.25" cy="469.27" r="1.3" fill="#d8404a"/>
<circle cx="142.83" cy="463.96" r="1.3" fill="#d8404a"/>
<circle cx="160.41" cy="464.86" r="1.3" fill="#d8404a"/>
<circle cx="177.99" cy="453.63" r="1.3" fill="#d8404a"/>
<circle cx="195.57" cy="452.99" r="1.3" fill="#d8404a"/>
<circle cx="213.15" cy="427.35" r="1.3" fill="#d8404a"/>
<circle cx="230.73" cy="375.31" r="1.3" fill="#d8404a"/>
<circle cx="125.25" cy="471.37" r="1.3" fill="#1d4a82"/>
<circle cx="142.83" cy="471.10" r="1.3" fill="#1d4a82"/>
<circle cx="160.41" cy="470.83" r="1.3" fill="#1d4a82"/>
<circle cx="177.99" cy="470.73" r="1.3" fill="#1d4a82"/>
<circle cx="195.57" cy="471.37" r="1.3" fill="#1d4a82"/>
<circle cx="213.15" cy="471.37" r="1.3" fill="#1d4a82"/>
<circle cx="230.73" cy="470.93" r="1.3" fill="#1d4a82"/>
<text x="127.05" y="464.87" font-size="5.7" letter-spacing="-0.32" fill="#505050">8·8</text>
<text x="145.63" y="460.76" font-size="5.7" letter-spacing="-0.32" fill="#505050">24·7</text>
<text x="162.41" y="456.26" font-size="5.7" letter-spacing="-0.32" fill="#505050">22·0</text>
<text x="179.99" y="450.83" font-size="5.7" letter-spacing="-0.32" fill="#505050">55·7</text>
<text x="197.47" y="454.99" font-size="5.7" letter-spacing="-0.32" fill="#505050">57·6</text>
<text x="216.55" y="429.35" font-size="5.7" letter-spacing="-0.32" fill="#505050">134·5</text>
<text x="216.13" y="373.91" font-size="5.7" letter-spacing="-0.32" fill="#505050">290·6</text>
<text x="130.25" y="470.97" font-size="5.7" letter-spacing="-0.32" fill="#505050">2·5</text>
<text x="146.03" y="470.10" font-size="5.7" letter-spacing="-0.32" fill="#505050">3·3</text>
<text x="162.41" y="469.23" font-size="5.7" letter-spacing="-0.32" fill="#505050">4·1</text>
<text x="180.59" y="466.93" font-size="5.7" letter-spacing="-0.32" fill="#505050">4·4</text>
<text x="198.07" y="467.97" font-size="5.7" letter-spacing="-0.32" fill="#505050">2·5</text>
<text x="215.55" y="467.77" font-size="5.7" letter-spacing="-0.32" fill="#505050">2·5</text>
<text x="232.53" y="467.33" font-size="5.7" letter-spacing="-0.32" fill="#505050">3·8</text>
<text transform="translate(96.20 413.50) rotate(-90)" font-size="6.75" text-anchor="middle" fill="#3a3a3a" letter-spacing="-0.24">High-sensitivity cardiac troponin I (ng/mL)</text>
<text x="178.40" y="492.70" font-size="6.3" text-anchor="middle" letter-spacing="-0.2" fill="#3a3a3a">Days from illness onset</text>
<text x="274.50" y="345.90" font-size="7.8" text-anchor="middle" font-weight="bold" fill="#222">F</text>
<path d="M289.50 422.37V445.03M288.40 422.37h2.2M288.40 445.03h2.2" stroke="#7096c5" stroke-width="1.05" fill="none"/>
<path d="M305.04 413.75V443.90M303.94 413.75h2.2M303.94 443.90h2.2" stroke="#7096c5" stroke-width="1.05" fill="none"/>
<path d="M320.58 396.30V439.37M319.48 396.30h2.2M319.48 439.37h2.2" stroke="#7096c5" stroke-width="1.05" fill="none"/>
<path d="M336.12 393.58V443.22M335.02 393.58h2.2M335.02 443.22h2.2" stroke="#7096c5" stroke-width="1.05" fill="none"/>
<path d="M351.66 406.05V448.89M350.56 406.05h2.2M350.56 448.89h2.2" stroke="#7096c5" stroke-width="1.05" fill="none"/>
<path d="M367.20 424.86V449.57M366.10 424.86h2.2M366.10 449.57h2.2" stroke="#7096c5" stroke-width="1.05" fill="none"/>
<path d="M382.74 421.23V452.51M381.64 421.23h2.2M381.64 452.51h2.2" stroke="#7096c5" stroke-width="1.05" fill="none"/>
<path d="M398.28 416.93V454.55M397.18 416.93h2.2M397.18 454.55h2.2" stroke="#7096c5" stroke-width="1.05" fill="none"/>
<path d="M289.50 360.71V431.21M288.40 360.71h2.2M288.40 431.21h2.2" stroke="#f0949a" stroke-width="1.05" fill="none"/>
<path d="M305.04 385.87V433.70M303.94 385.87h2.2M303.94 433.70h2.2" stroke="#f0949a" stroke-width="1.05" fill="none"/>
<path d="M320.58 362.98V427.35M319.48 362.98h2.2M319.48 427.35h2.2" stroke="#f0949a" stroke-width="1.05" fill="none"/>
<path d="M336.12 356.18V442.54M335.02 356.18h2.2M335.02 442.54h2.2" stroke="#f0949a" stroke-width="1.05" fill="none"/>
<path d="M351.66 377.49V447.53M350.56 377.49h2.2M350.56 447.53h2.2" stroke="#f0949a" stroke-width="1.05" fill="none"/>
<path d="M367.20 355.50V435.06M366.10 355.50h2.2M366.10 435.06h2.2" stroke="#f0949a" stroke-width="1.05" fill="none"/>
<path d="M382.74 355.50V415.57M381.64 355.50h2.2M381.64 415.57h2.2" stroke="#f0949a" stroke-width="1.05" fill="none"/>
<path d="M398.28 355.50V436.42M397.18 355.50h2.2M397.18 436.42h2.2" stroke="#f0949a" stroke-width="1.05" fill="none"/>
<path d="M281.25 355.20V459.50" stroke="#585858" stroke-width="0.7" fill="none"/>
<path d="M281.25 468V472.50" stroke="#585858" stroke-width="0.7" fill="none"/>
<path d="M278.65 462.3l5 -3.6M278.65 468.6l5 -3.6" stroke="#585858" stroke-width="0.7" fill="none"/>
<path d="M277.85 472.50H407.00" stroke="#585858" stroke-width="0.7" fill="none"/>
<line x1="277.85" y1="472.50" x2="281.25" y2="472.50" stroke="#585858" stroke-width="0.85"/>
<text x="275.45" y="474.95" font-size="6.9" text-anchor="end" letter-spacing="-0.45" fill="#3a3a3a">0</text>
<line x1="277.85" y1="457.50" x2="281.25" y2="457.50" stroke="#585858" stroke-width="0.85"/>
<text x="275.45" y="459.95" font-size="6.9" text-anchor="end" letter-spacing="-0.45" fill="#3a3a3a">150</text>
<line x1="277.85" y1="446.17" x2="281.25" y2="446.17" stroke="#585858" stroke-width="0.85"/>
<text x="275.45" y="448.62" font-size="6.9" text-anchor="end" letter-spacing="-0.45" fill="#3a3a3a">200</text>
<line x1="277.85" y1="434.83" x2="281.25" y2="434.83" stroke="#585858" stroke-width="0.85"/>
<text x="275.45" y="437.28" font-size="6.9" text-anchor="end" letter-spacing="-0.45" fill="#3a3a3a">250</text>
<line x1="277.85" y1="423.50" x2="281.25" y2="423.50" stroke="#585858" stroke-width="0.85"/>
<text x="275.45" y="425.95" font-size="6.9" text-anchor="end" letter-spacing="-0.45" fill="#3a3a3a">300</text>
<line x1="277.85" y1="412.17" x2="281.25" y2="412.17" stroke="#585858" stroke-width="0.85"/>
<text x="275.45" y="414.62" font-size="6.9" text-anchor="end" letter-spacing="-0.45" fill="#3a3a3a">350</text>
<line x1="277.85" y1="400.83" x2="281.25" y2="400.83" stroke="#585858" stroke-width="0.85"/>
<text x="275.45" y="403.28" font-size="6.9" text-anchor="end" letter-spacing="-0.45" fill="#3a3a3a">400</text>
<line x1="277.85" y1="389.50" x2="281.25" y2="389.50" stroke="#585858" stroke-width="0.85"/>
<text x="275.45" y="391.95" font-size="6.9" text-anchor="end" letter-spacing="-0.45" fill="#3a3a3a">450</text>
<line x1="277.85" y1="378.17" x2="281.25" y2="378.17" stroke="#585858" stroke-width="0.85"/>
<text x="275.45" y="380.62" font-size="6.9" text-anchor="end" letter-spacing="-0.45" fill="#3a3a3a">500</text>
<line x1="277.85" y1="366.83" x2="281.25" y2="366.83" stroke="#585858" stroke-width="0.85"/>
<text x="275.45" y="369.28" font-size="6.9" text-anchor="end" letter-spacing="-0.45" fill="#3a3a3a">550</text>
<line x1="277.85" y1="355.50" x2="281.25" y2="355.50" stroke="#585858" stroke-width="0.85"/>
<text x="275.45" y="357.95" font-size="6.9" text-anchor="end" letter-spacing="-0.45" fill="#3a3a3a">600</text>
<line x1="289.50" y1="472.50" x2="289.50" y2="475.50" stroke="#585858" stroke-width="0.7"/>
<text x="289.50" y="482.90" font-size="6.9" text-anchor="middle" letter-spacing="-0.45" fill="#3a3a3a">4</text>
<line x1="305.04" y1="472.50" x2="305.04" y2="475.50" stroke="#585858" stroke-width="0.7"/>
<text x="305.04" y="482.90" font-size="6.9" text-anchor="middle" letter-spacing="-0.45" fill="#3a3a3a">7</text>
<line x1="320.58" y1="472.50" x2="320.58" y2="475.50" stroke="#585858" stroke-width="0.7"/>
<text x="320.58" y="482.90" font-size="6.9" text-anchor="middle" letter-spacing="-0.45" fill="#3a3a3a">10</text>
<line x1="336.12" y1="472.50" x2="336.12" y2="475.50" stroke="#585858" stroke-width="0.7"/>
<text x="336.12" y="482.90" font-size="6.9" text-anchor="middle" letter-spacing="-0.45" fill="#3a3a3a">13</text>
<line x1="351.66" y1="472.50" x2="351.66" y2="475.50" stroke="#585858" stroke-width="0.7"/>
<text x="351.66" y="482.90" font-size="6.9" text-anchor="middle" letter-spacing="-0.45" fill="#3a3a3a">16</text>
<line x1="367.20" y1="472.50" x2="367.20" y2="475.50" stroke="#585858" stroke-width="0.7"/>
<text x="367.20" y="482.90" font-size="6.9" text-anchor="middle" letter-spacing="-0.45" fill="#3a3a3a">19</text>
<line x1="382.74" y1="472.50" x2="382.74" y2="475.50" stroke="#585858" stroke-width="0.7"/>
<text x="382.74" y="482.90" font-size="6.9" text-anchor="middle" letter-spacing="-0.45" fill="#3a3a3a">22</text>
<line x1="398.28" y1="472.50" x2="398.28" y2="475.50" stroke="#585858" stroke-width="0.7"/>
<text x="398.28" y="482.90" font-size="6.9" text-anchor="middle" letter-spacing="-0.45" fill="#3a3a3a">25</text>
<polyline points="289.50,416.25 305.04,418.29 320.58,403.10 336.12,401.51 351.66,403.55 367.20,397.89 382.74,371.82 398.28,357.77" fill="none" stroke="#ee7880" stroke-width="0.95"/>
<polyline points="289.50,438.01 305.04,436.42 320.58,423.05 336.12,423.27 351.66,437.10 367.20,442.31 382.74,446.62 398.28,446.17" fill="none" stroke="#4070aa" stroke-width="0.95"/>
<circle cx="289.50" cy="416.25" r="1.3" fill="#d8404a"/>
<circle cx="305.04" cy="418.29" r="1.3" fill="#d8404a"/>
<circle cx="320.58" cy="403.10" r="1.3" fill="#d8404a"/>
<circle cx="336.12" cy="401.51" r="1.3" fill="#d8404a"/>
<circle cx="351.66" cy="403.55" r="1.3" fill="#d8404a"/>
<circle cx="367.20" cy="397.89" r="1.3" fill="#d8404a"/>
<circle cx="382.74" cy="371.82" r="1.3" fill="#d8404a"/>
<circle cx="398.28" cy="357.77" r="1.3" fill="#d8404a"/>
<circle cx="289.50" cy="438.01" r="1.3" fill="#1d4a82"/>
<circle cx="305.04" cy="436.42" r="1.3" fill="#1d4a82"/>
<circle cx="320.58" cy="423.05" r="1.3" fill="#1d4a82"/>
<circle cx="336.12" cy="423.27" r="1.3" fill="#1d4a82"/>
<circle cx="351.66" cy="437.10" r="1.3" fill="#1d4a82"/>
<circle cx="367.20" cy="442.31" r="1.3" fill="#1d4a82"/>
<circle cx="382.74" cy="446.62" r="1.3" fill="#1d4a82"/>
<circle cx="398.28" cy="446.17" r="1.3" fill="#1d4a82"/>
<text x="291.90" y="412.25" font-size="5.7" letter-spacing="-0.32" fill="#505050">332</text>
<text x="293.44" y="423.89" font-size="5.7" letter-spacing="-0.32" fill="#505050">323</text>
<text x="309.18" y="402.10" font-size="5.7" letter-spacing="-0.32" fill="#505050">390</text>
<text x="324.92" y="398.31" font-size="5.7" letter-spacing="-0.32" fill="#505050">397</text>
<text x="340.86" y="398.95" font-size="5.7" letter-spacing="-0.32" fill="#505050">388</text>
<text x="357.40" y="396.09" font-size="5.7" letter-spacing="-0.32" fill="#505050">413</text>
<text x="371.34" y="370.22" font-size="5.7" letter-spacing="-0.32" fill="#505050">528</text>
<text x="385.28" y="357.57" font-size="5.7" letter-spacing="-0.32" fill="#505050">590</text>
<text x="291.70" y="446.21" font-size="5.7" letter-spacing="-0.32" fill="#505050">236</text>
<text x="294.44" y="433.82" font-size="5.7" letter-spacing="-0.32" fill="#505050">243</text>
<text x="309.38" y="420.95" font-size="5.7" letter-spacing="-0.32" fill="#505050">302</text>
<text x="325.72" y="419.67" font-size="5.7" letter-spacing="-0.32" fill="#505050">301</text>
<text x="340.26" y="442.90" font-size="5.7" letter-spacing="-0.32" fill="#505050">240</text>
<text x="356.60" y="449.91" font-size="5.7" letter-spacing="-0.32" fill="#505050">217</text>
<text x="371.74" y="452.62" font-size="5.7" letter-spacing="-0.32" fill="#505050">198</text>
<text x="385.08" y="452.97" font-size="5.7" letter-spacing="-0.32" fill="#505050">200</text>
<text transform="translate(257.00 413.75) rotate(-90)" font-size="6.75" text-anchor="middle" fill="#3a3a3a" letter-spacing="-0.24">Lactate dehydrogenase (U/L)</text>
<text x="343.10" y="493.00" font-size="6.3" text-anchor="middle" letter-spacing="-0.2" fill="#3a3a3a">Days from illness onset</text>
</g>
<g filter="url(#blur)" font-family="Liberation Sans, sans-serif">
<rect x="476.2" y="15.4" width="233.0" height="487.6" fill="#f6dbd6" stroke="#e9b3b5" stroke-width="1"/>
<rect x="483.3" y="56.9" width="219.3" height="270.5" fill="#fff"/>
<rect x="483.3" y="340.1" width="219.3" height="144.8" fill="#fff"/>
<line x1="483.3" y1="43.4" x2="702.7" y2="43.4" stroke="#bd9f9a" stroke-width="1.3"/>
<text x="538.40" y="29.10" font-size="6.7" font-weight="bold" letter-spacing="-0.2" fill="#3c3c3c" stroke="#3c3c3c" stroke-width="0.2">Univariable OR</text>
<text x="538.40" y="38.50" font-size="6.7" font-weight="bold" letter-spacing="-0.2" fill="#3c3c3c" stroke="#3c3c3c" stroke-width="0.2">(95% CI)</text>
<text x="590.80" y="29.10" font-size="6.7" font-weight="bold" letter-spacing="-0.2" fill="#3c3c3c" stroke="#3c3c3c" stroke-width="0.2">p value</text>
<text x="625.00" y="29.10" font-size="6.7" font-weight="bold" letter-spacing="0.04" fill="#3c3c3c" stroke="#3c3c3c" stroke-width="0.2">Multivariable</text>
<text x="625.00" y="38.50" font-size="6.7" font-weight="bold" letter-spacing="-0.2" fill="#3c3c3c" stroke="#3c3c3c" stroke-width="0.2">OR (95% CI)</text>
<text x="672.80" y="29.10" font-size="6.7" font-weight="bold" letter-spacing="-0.2" fill="#3c3c3c" stroke="#3c3c3c" stroke-width="0.2">p value</text>
<text x="485.70" y="53.10" font-size="6.7" font-weight="bold" letter-spacing="-0.2" fill="#3c3c3c" stroke="#3c3c3c" stroke-width="0.2">Demographics and clinical characteristics</text>
<text x="485.70" y="336.90" font-size="6.7" font-weight="bold" letter-spacing="-0.2" fill="#3c3c3c" stroke="#3c3c3c" stroke-width="0.2">Laboratory findings</text>
<text x="485.70" y="65.70" font-size="6.9" letter-spacing="-0.13" fill="#3c3c3c" stroke="#3c3c3c" stroke-width="0.12">Age, years*</text>
<text x="544.00" y="65.70" font-size="6.9" letter-spacing="-0.13" fill="#3c3c3c" stroke="#3c3c3c" stroke-width="0.12">1·14</text>
<text x="538.30" y="74.90" font-size="6.9" letter-spacing="-0.26" fill="#3c3c3c" stroke="#3c3c3c" stroke-width="0.12">(1·09–1·18)</text>
<text x="591.50" y="65.70" font-size="6.9" letter-spacing="-0.13" fill="#3c3c3c" stroke="#3c3c3c" stroke-width="0.12">&lt;0·0001</text>
<text x="630.70" y="65.70" font-size="6.9" letter-spacing="-0.13" fill="#3c3c3c" stroke="#3c3c3c" stroke-width="0.12">1·10</text>
<text x="625.00" y="74.90" font-size="6.9" letter-spacing="-0.26" fill="#3c3c3c" stroke="#3c3c3c" stroke-width="0.12">(1·03–1·17)</text>
<text x="678.00" y="65.70" font-size="6.9" letter-spacing="-0.13" fill="#3c3c3c" stroke="#3c3c3c" stroke-width="0.12">0·0043</text>
<text x="485.70" y="87.20" font-size="6.9" letter-spacing="-0.13" fill="#3c3c3c" stroke="#3c3c3c" stroke-width="0.12">Female sex</text>
<text x="485.70" y="96.45" font-size="6.9" letter-spacing="-0.13" fill="#3c3c3c" stroke="#3c3c3c" stroke-width="0.12">(vs male)</text>
<text x="544.00" y="87.20" font-size="6.9" letter-spacing="-0.13" fill="#3c3c3c" stroke="#3c3c3c" stroke-width="0.12">0·61</text>
<text x="538.30" y="96.40" font-size="6.9" letter-spacing="-0.26" fill="#3c3c3c" stroke="#3c3c3c" stroke-width="0.12">(0·31–1·20)</text>
<text x="595.00" y="87.20" font-size="6.9" letter-spacing="-0.13" fill="#3c3c3c" stroke="#3c3c3c" stroke-width="0.12">0·15</text>
<text x="635.60" y="87.20" font-size="6.9" text-anchor="middle" letter-spacing="-0.13" fill="#3c3c3c" stroke="#3c3c3c" stroke-width="0.12">··</text>
<text x="684.00" y="87.20" font-size="6.9" text-anchor="middle" letter-spacing="-0.13" fill="#3c3c3c" stroke="#3c3c3c" stroke-width="0.12">··</text>
<text x="485.70" y="109.00" font-size="6.9" letter-spacing="-0.13" fill="#3c3c3c" stroke="#3c3c3c" stroke-width="0.12">Current smoker</text>
<text x="485.70" y="118.25" font-size="6.9" letter-spacing="-0.13" fill="#3c3c3c" stroke="#3c3c3c" stroke-width="0.12">(vs non-</text>
<text x="485.70" y="127.50" font-size="6.9" letter-spacing="-0.13" fill="#3c3c3c" stroke="#3c3c3c" stroke-width="0.12">smoker)</text>
<text x="544.00" y="109.00" font-size="6.9" letter-spacing="-0.13" fill="#3c3c3c" stroke="#3c3c3c" stroke-width="0.12">2·23</text>
<text x="538.30" y="118.20" font-size="6.9" letter-spacing="-0.26" fill="#3c3c3c" stroke="#3c3c3c" stroke-width="0.12">(0·65–7·63)</text>
<text x="595.00" y="109.00" font-size="6.9" letter-spacing="-0.13" fill="#3c3c3c" stroke="#3c3c3c" stroke-width="0.12">0·20</text>
<text x="635.60" y="109.00" font-size="6.9" text-anchor="middle" letter-spacing="-0.13" fill="#3c3c3c" stroke="#3c3c3c" stroke-width="0.12">··</text>
<text x="684.00" y="109.00" font-size="6.9" text-anchor="middle" letter-spacing="-0.13" fill="#3c3c3c" stroke="#3c3c3c" stroke-width="0.12">··</text>
<text x="485.70" y="139.70" font-size="6.9" letter-spacing="-0.13" fill="#3c3c3c" stroke="#3c3c3c" stroke-width="0.12">Comorbidity present (vs not present)</text>
<text x="491.70" y="152.10" font-size="6.9" letter-spacing="-0.13" fill="#3c3c3c" stroke="#3c3c3c" stroke-width="0.12">Chronic</text>
<text x="491.70" y="161.35" font-size="6.9" letter-spacing="-0.13" fill="#3c3c3c" stroke="#3c3c3c" stroke-width="0.12">obstructive</text>
<text x="491.70" y="170.60" font-size="6.9" letter-spacing="-0.13" fill="#3c3c3c" stroke="#3c3c3c" stroke-width="0.12">lung disease</text>
<text x="544.00" y="152.10" font-size="6.9" letter-spacing="-0.13" fill="#3c3c3c" stroke="#3c3c3c" stroke-width="0.12">5·40</text>
<text x="538.30" y="161.30" font-size="6.9" letter-spacing="-0.26" fill="#3c3c3c" stroke="#3c3c3c" stroke-width="0.12">(0·96–30·40)</text>
<text x="595.00" y="152.10" font-size="6.9" letter-spacing="-0.13" fill="#3c3c3c" stroke="#3c3c3c" stroke-width="0.12">0·056</text>
<text x="635.60" y="152.10" font-size="6.9" text-anchor="middle" letter-spacing="-0.13" fill="#3c3c3c" stroke="#3c3c3c" stroke-width="0.12">··</text>
<text x="684.00" y="152.10" font-size="6.9" text-anchor="middle" letter-spacing="-0.13" fill="#3c3c3c" stroke="#3c3c3c" stroke-width="0.12">··</text>
<text x="491.70" y="183.10" font-size="6.9" letter-spacing="-0.13" fill="#3c3c3c" stroke="#3c3c3c" stroke-width="0.12">Coronary</text>
<text x="491.70" y="192.35" font-size="6.9" letter-spacing="-0.13" fill="#3c3c3c" stroke="#3c3c3c" stroke-width="0.12">heart disease</text>
<text x="540.29" y="183.10" font-size="6.9" letter-spacing="-0.13" fill="#3c3c3c" stroke="#3c3c3c" stroke-width="0.12">21·40</text>
<text x="538.30" y="192.30" font-size="6.9" letter-spacing="-0.26" fill="#3c3c3c" stroke="#3c3c3c" stroke-width="0.12">(4·64–98·76)</text>
<text x="591.50" y="183.10" font-size="6.9" letter-spacing="-0.13" fill="#3c3c3c" stroke="#3c3c3c" stroke-width="0.12">&lt;0·0001</text>
<text x="630.70" y="183.10" font-size="6.9" letter-spacing="-0.13" fill="#3c3c3c" stroke="#3c3c3c" stroke-width="0.12">2·14</text>
<text x="625.00" y="192.30" font-size="6.9" letter-spacing="-0.26" fill="#3c3c3c" stroke="#3c3c3c" stroke-width="0.12">(0·26–17·79)</text>
<text x="678.00" y="183.10" font-size="6.9" letter-spacing="-0.13" fill="#3c3c3c" stroke="#3c3c3c" stroke-width="0.12">0·48</text>
<text x="491.70" y="204.70" font-size="6.9" letter-spacing="-0.13" fill="#3c3c3c" stroke="#3c3c3c" stroke-width="0.12">Diabetes</text>
<text x="544.00" y="204.70" font-size="6.9" letter-spacing="-0.13" fill="#3c3c3c" stroke="#3c3c3c" stroke-width="0.12">2·85</text>
<text x="538.30" y="213.90" font-size="6.9" letter-spacing="-0.26" fill="#3c3c3c" stroke="#3c3c3c" stroke-width="0.12">(1·35–6·05)</text>
<text x="595.00" y="204.70" font-size="6.9" letter-spacing="-0.13" fill="#3c3c3c" stroke="#3c3c3c" stroke-width="0.12">0·0062</text>
<text x="635.60" y="204.70" font-size="6.9" text-anchor="middle" letter-spacing="-0.13" fill="#3c3c3c" stroke="#3c3c3c" stroke-width="0.12">··</text>
<text x="684.00" y="204.70" font-size="6.9" text-anchor="middle" letter-spacing="-0.13" fill="#3c3c3c" stroke="#3c3c3c" stroke-width="0.12">··</text>
<text x="491.70" y="225.90" font-size="6.9" letter-spacing="-0.13" fill="#3c3c3c" stroke="#3c3c3c" stroke-width="0.12">Hypertension</text>
<text x="544.00" y="225.90" font-size="6.9" letter-spacing="-0.13" fill="#3c3c3c" stroke="#3c3c3c" stroke-width="0.12">3·05</text>
<text x="538.30" y="235.10" font-size="6.9" letter-spacing="-0.26" fill="#3c3c3c" stroke="#3c3c3c" stroke-width="0.12">(1·57–5·92)</text>
<text x="595.00" y="225.90" font-size="6.9" letter-spacing="-0.13" fill="#3c3c3c" stroke="#3c3c3c" stroke-width="0.12">0·0010</text>
<text x="635.60" y="225.90" font-size="6.9" text-anchor="middle" letter-spacing="-0.13" fill="#3c3c3c" stroke="#3c3c3c" stroke-width="0.12">··</text>
<text x="684.00" y="225.90" font-size="6.9" text-anchor="middle" letter-spacing="-0.13" fill="#3c3c3c" stroke="#3c3c3c" stroke-width="0.12">··</text>
<text x="485.70" y="247.40" font-size="6.9" letter-spacing="-0.13" fill="#3c3c3c" stroke="#3c3c3c" stroke-width="0.12">Respiratory rate, breaths per min</text>
<text x="491.70" y="260.00" font-size="6.9" letter-spacing="-0.13" fill="#3c3c3c" stroke="#3c3c3c" stroke-width="0.12">≤24</text>
<text x="544.00" y="260.00" font-size="6.9" letter-spacing="-0.13" fill="#3c3c3c" stroke="#3c3c3c" stroke-width="0.12">1 (ref)</text>
<text x="601.00" y="260.00" font-size="6.9" text-anchor="middle" letter-spacing="-0.13" fill="#3c3c3c" stroke="#3c3c3c" stroke-width="0.12">··</text>
<text x="635.60" y="260.00" font-size="6.9" text-anchor="middle" letter-spacing="-0.13" fill="#3c3c3c" stroke="#3c3c3c" stroke-width="0.12">··</text>
<text x="684.00" y="260.00" font-size="6.9" text-anchor="middle" letter-spacing="-0.13" fill="#3c3c3c" stroke="#3c3c3c" stroke-width="0.12">··</text>
<text x="491.70" y="271.90" font-size="6.9" letter-spacing="-0.13" fill="#3c3c3c" stroke="#3c3c3c" stroke-width="0.12">&gt;24</text>
<text x="544.00" y="271.90" font-size="6.9" letter-spacing="-0.13" fill="#3c3c3c" stroke="#3c3c3c" stroke-width="0.12">8·89</text>
<text x="538.30" y="281.10" font-size="6.9" letter-spacing="-0.26" fill="#3c3c3c" stroke="#3c3c3c" stroke-width="0.12">(4·34–18·19)</text>
<text x="591.50" y="271.90" font-size="6.9" letter-spacing="-0.13" fill="#3c3c3c" stroke="#3c3c3c" stroke-width="0.12">&lt;0·0001</text>
<text x="635.60" y="271.90" font-size="6.9" text-anchor="middle" letter-spacing="-0.13" fill="#3c3c3c" stroke="#3c3c3c" stroke-width="0.12">··</text>
<text x="684.00" y="271.90" font-size="6.9" text-anchor="middle" letter-spacing="-0.13" fill="#3c3c3c" stroke="#3c3c3c" stroke-width="0.12">··</text>
<text x="485.70" y="293.40" font-size="6.9" letter-spacing="-0.13" fill="#3c3c3c" stroke="#3c3c3c" stroke-width="0.12">SOFA score</text>
<text x="544.00" y="293.40" font-size="6.9" letter-spacing="-0.13" fill="#3c3c3c" stroke="#3c3c3c" stroke-width="0.12">6·14</text>
<text x="538.30" y="302.60" font-size="6.9" letter-spacing="-0.26" fill="#3c3c3c" stroke="#3c3c3c" stroke-width="0.12">(3·48–10·85)</text>
<text x="591.50" y="293.40" font-size="6.9" letter-spacing="-0.13" fill="#3c3c3c" stroke="#3c3c3c" stroke-width="0.12">&lt;0·0001</text>
<text x="630.70" y="293.40" font-size="6.9" letter-spacing="-0.13" fill="#3c3c3c" stroke="#3c3c3c" stroke-width="0.12">5·65</text>
<text x="625.00" y="302.60" font-size="6.9" letter-spacing="-0.26" fill="#3c3c3c" stroke="#3c3c3c" stroke-width="0.12">(2·61–12·23)</text>
<text x="674.50" y="293.40" font-size="6.9" letter-spacing="-0.13" fill="#3c3c3c" stroke="#3c3c3c" stroke-width="0.12">&lt;0·0001</text>
<text x="485.70" y="315.00" font-size="6.9" letter-spacing="-0.13" fill="#3c3c3c" stroke="#3c3c3c" stroke-width="0.12">qSOFA score</text>
<text x="540.29" y="315.00" font-size="6.9" letter-spacing="-0.13" fill="#3c3c3c" stroke="#3c3c3c" stroke-width="0.12">12·00</text>
<text x="538.30" y="324.20" font-size="6.9" letter-spacing="-0.26" fill="#3c3c3c" stroke="#3c3c3c" stroke-width="0.12">(5·06–28·43)</text>
<text x="591.50" y="315.00" font-size="6.9" letter-spacing="-0.13" fill="#3c3c3c" stroke="#3c3c3c" stroke-width="0.12">&lt;0·0001</text>
<text x="635.60" y="315.00" font-size="6.9" text-anchor="middle" letter-spacing="-0.13" fill="#3c3c3c" stroke="#3c3c3c" stroke-width="0.12">··</text>
<text x="684.00" y="315.00" font-size="6.9" text-anchor="middle" letter-spacing="-0.13" fill="#3c3c3c" stroke="#3c3c3c" stroke-width="0.12">··</text>
<text x="485.70" y="348.10" font-size="6.9" letter-spacing="-0.13" fill="#3c3c3c" stroke="#3c3c3c" stroke-width="0.12">White blood cell count, × 10⁹ per L</text>
<text x="491.70" y="361.40" font-size="6.9" letter-spacing="-0.13" fill="#3c3c3c" stroke="#3c3c3c" stroke-width="0.12">&lt;4</text>
<text x="544.00" y="361.40" font-size="6.9" letter-spacing="-0.13" fill="#3c3c3c" stroke="#3c3c3c" stroke-width="0.12">0·73</text>
<text x="538.30" y="370.60" font-size="6.9" letter-spacing="-0.26" fill="#3c3c3c" stroke="#3c3c3c" stroke-width="0.12">(0·26–2·10)</text>
<text x="595.00" y="361.40" font-size="6.9" letter-spacing="-0.13" fill="#3c3c3c" stroke="#3c3c3c" stroke-width="0.12">0·56</text>
<text x="635.60" y="361.40" font-size="6.9" text-anchor="middle" letter-spacing="-0.13" fill="#3c3c3c" stroke="#3c3c3c" stroke-width="0.12">··</text>
<text x="684.00" y="361.40" font-size="6.9" text-anchor="middle" letter-spacing="-0.13" fill="#3c3c3c" stroke="#3c3c3c" stroke-width="0.12">··</text>
<text x="491.70" y="382.80" font-size="6.9" letter-spacing="-0.13" fill="#3c3c3c" stroke="#3c3c3c" stroke-width="0.12">4–10</text>
<text x="544.00" y="382.80" font-size="6.9" letter-spacing="-0.13" fill="#3c3c3c" stroke="#3c3c3c" stroke-width="0.12">1 (ref)</text>
<text x="601.00" y="382.80" font-size="6.9" text-anchor="middle" letter-spacing="-0.13" fill="#3c3c3c" stroke="#3c3c3c" stroke-width="0.12">··</text>
<text x="635.60" y="382.80" font-size="6.9" text-anchor="middle" letter-spacing="-0.13" fill="#3c3c3c" stroke="#3c3c3c" stroke-width="0.12">··</text>
<text x="684.00" y="382.80" font-size="6.9" text-anchor="middle" letter-spacing="-0.13" fill="#3c3c3c" stroke="#3c3c3c" stroke-width="0.12">··</text>
<text x="491.70" y="394.80" font-size="6.9" letter-spacing="-0.13" fill="#3c3c3c" stroke="#3c3c3c" stroke-width="0.12">&gt;10</text>
<text x="544.00" y="394.80" font-size="6.9" letter-spacing="-0.13" fill="#3c3c3c" stroke="#3c3c3c" stroke-width="0.12">6·60</text>
<text x="538.30" y="404.00" font-size="6.9" letter-spacing="-0.26" fill="#3c3c3c" stroke="#3c3c3c" stroke-width="0.12">(3·02–14·41)</text>
<text x="591.50" y="394.80" font-size="6.9" letter-spacing="-0.13" fill="#3c3c3c" stroke="#3c3c3c" stroke-width="0.12">&lt;0·0001</text>
<text x="635.60" y="394.80" font-size="6.9" text-anchor="middle" letter-spacing="-0.13" fill="#3c3c3c" stroke="#3c3c3c" stroke-width="0.12">··</text>
<text x="684.00" y="394.80" font-size="6.9" text-anchor="middle" letter-spacing="-0.13" fill="#3c3c3c" stroke="#3c3c3c" stroke-width="0.12">··</text>
<text x="485.70" y="416.40" font-size="6.9" letter-spacing="-0.13" fill="#3c3c3c" stroke="#3c3c3c" stroke-width="0.12">Lymphocyte</text>
<text x="485.70" y="425.65" font-size="6.9" letter-spacing="-0.13" fill="#3c3c3c" stroke="#3c3c3c" stroke-width="0.12">count,</text>
<text x="485.70" y="434.90" font-size="6.9" letter-spacing="-0.13" fill="#3c3c3c" stroke="#3c3c3c" stroke-width="0.12">× 10⁹ per L*</text>
<text x="544.00" y="416.40" font-size="6.9" letter-spacing="-0.13" fill="#3c3c3c" stroke="#3c3c3c" stroke-width="0.12">0·02</text>
<text x="538.30" y="425.60" font-size="6.9" letter-spacing="-0.26" fill="#3c3c3c" stroke="#3c3c3c" stroke-width="0.12">(0·01–0·08)</text>
<text x="591.50" y="416.40" font-size="6.9" letter-spacing="-0.13" fill="#3c3c3c" stroke="#3c3c3c" stroke-width="0.12">&lt;0·0001</text>
<text x="630.70" y="416.40" font-size="6.9" letter-spacing="-0.13" fill="#3c3c3c" stroke="#3c3c3c" stroke-width="0.12">0·19</text>
<text x="625.00" y="425.60" font-size="6.9" letter-spacing="-0.26" fill="#3c3c3c" stroke="#3c3c3c" stroke-width="0.12">(0·02–1·62)</text>
<text x="678.00" y="416.40" font-size="6.9" letter-spacing="-0.13" fill="#3c3c3c" stroke="#3c3c3c" stroke-width="0.12">0·13</text>
<text x="485.70" y="447.40" font-size="6.9" letter-spacing="-0.13" fill="#3c3c3c" stroke="#3c3c3c" stroke-width="0.12">ALT, U/L</text>
<text x="491.70" y="459.80" font-size="6.9" letter-spacing="-0.13" fill="#3c3c3c" stroke="#3c3c3c" stroke-width="0.12">≤40</text>
<text x="544.00" y="459.80" font-size="6.9" letter-spacing="-0.13" fill="#3c3c3c" stroke="#3c3c3c" stroke-width="0.12">1 (ref)</text>
<text x="601.00" y="459.80" font-size="6.9" text-anchor="middle" letter-spacing="-0.13" fill="#3c3c3c" stroke="#3c3c3c" stroke-width="0.12">··</text>
<text x="635.60" y="459.80" font-size="6.9" text-anchor="middle" letter-spacing="-0.13" fill="#3c3c3c" stroke="#3c3c3c" stroke-width="0.12">··</text>
<text x="684.00" y="459.80" font-size="6.9" text-anchor="middle" letter-spacing="-0.13" fill="#3c3c3c" stroke="#3c3c3c" stroke-width="0.12">··</text>
<text x="491.70" y="472.20" font-size="6.9" letter-spacing="-0.13" fill="#3c3c3c" stroke="#3c3c3c" stroke-width="0.12">&gt;40</text>
<text x="544.00" y="472.20" font-size="6.9" letter-spacing="-0.13" fill="#3c3c3c" stroke="#3c3c3c" stroke-width="0.12">2·87</text>
<text x="538.30" y="481.40" font-size="6.9" letter-spacing="-0.26" fill="#3c3c3c" stroke="#3c3c3c" stroke-width="0.12">(1·48–5·57)</text>
<text x="595.00" y="472.20" font-size="6.9" letter-spacing="-0.13" fill="#3c3c3c" stroke="#3c3c3c" stroke-width="0.12">0·0018</text>
<text x="635.60" y="472.20" font-size="6.9" text-anchor="middle" letter-spacing="-0.13" fill="#3c3c3c" stroke="#3c3c3c" stroke-width="0.12">··</text>
<text x="684.00" y="472.20" font-size="6.9" text-anchor="middle" letter-spacing="-0.13" fill="#3c3c3c" stroke="#3c3c3c" stroke-width="0.12">··</text>
<text x="699.30" y="493.80" font-size="6.9" text-anchor="end" letter-spacing="-0.13" fill="#3c3c3c" stroke="#3c3c3c" stroke-width="0.12">(Table 3 continues in next column)</text>
</g>
<g filter="url(#blur)" font-family="Liberation Sans, sans-serif">
<rect x="721.8" y="15.4" width="233" height="473.9" fill="#f6dbd6" stroke="#e9b3b5" stroke-width="1"/>
<rect x="728.4" y="57.3" width="220" height="387.8" fill="#fff"/>
<line x1="728.4" y1="43.4" x2="948.4" y2="43.4" stroke="#bd9f9a" stroke-width="1.3"/>
<line x1="728.4" y1="474.0" x2="948.4" y2="474.0" stroke="#bd9f9a" stroke-width="1.3"/>
<text x="784.00" y="29.10" font-size="6.7" font-weight="bold" letter-spacing="-0.2" fill="#3c3c3c" stroke="#3c3c3c" stroke-width="0.2">Univariable OR</text>
<text x="784.00" y="38.50" font-size="6.7" font-weight="bold" letter-spacing="-0.2" fill="#3c3c3c" stroke="#3c3c3c" stroke-width="0.2">(95% CI)</text>
<text x="836.00" y="29.10" font-size="6.7" font-weight="bold" letter-spacing="-0.2" fill="#3c3c3c" stroke="#3c3c3c" stroke-width="0.2">p value</text>
<text x="870.70" y="29.10" font-size="6.7" font-weight="bold" letter-spacing="0.04" fill="#3c3c3c" stroke="#3c3c3c" stroke-width="0.2">Multivariable</text>
<text x="870.70" y="38.50" font-size="6.7" font-weight="bold" letter-spacing="-0.2" fill="#3c3c3c" stroke="#3c3c3c" stroke-width="0.2">OR (95% CI)</text>
<text x="918.70" y="29.10" font-size="6.7" font-weight="bold" letter-spacing="-0.2" fill="#3c3c3c" stroke="#3c3c3c" stroke-width="0.2">p value</text>
<text x="731.00" y="53.40" font-size="6.9" letter-spacing="-0.13" fill="#3c3c3c" stroke="#3c3c3c" stroke-width="0.12">(Continued from previous column)</text>
<text x="731.00" y="66.70" font-size="6.9" letter-spacing="-0.13" fill="#3c3c3c" stroke="#3c3c3c" stroke-width="0.12">Creatinine, µmol/L</text>
<text x="737.70" y="79.20" font-size="6.9" letter-spacing="-0.13" fill="#3c3c3c" stroke="#3c3c3c" stroke-width="0.12">≤133</text>
<text x="789.30" y="79.20" font-size="6.9" letter-spacing="-0.13" fill="#3c3c3c" stroke="#3c3c3c" stroke-width="0.12">1 (ref)</text>
<text x="846.50" y="79.20" font-size="6.9" text-anchor="middle" letter-spacing="-0.13" fill="#3c3c3c" stroke="#3c3c3c" stroke-width="0.12">··</text>
<text x="881.30" y="79.20" font-size="6.9" text-anchor="middle" letter-spacing="-0.13" fill="#3c3c3c" stroke="#3c3c3c" stroke-width="0.12">··</text>
<text x="929.20" y="79.20" font-size="6.9" text-anchor="middle" letter-spacing="-0.13" fill="#3c3c3c" stroke="#3c3c3c" stroke-width="0.12">··</text>
<text x="737.70" y="91.70" font-size="6.9" letter-spacing="-0.13" fill="#3c3c3c" stroke="#3c3c3c" stroke-width="0.12">&gt;133</text>
<text x="789.30" y="91.70" font-size="6.9" letter-spacing="-0.13" fill="#3c3c3c" stroke="#3c3c3c" stroke-width="0.12">4·39</text>
<text x="784.00" y="101.00" font-size="6.9" letter-spacing="-0.26" fill="#3c3c3c" stroke="#3c3c3c" stroke-width="0.12">(1·01–19·06)</text>
<text x="841.00" y="91.70" font-size="6.9" letter-spacing="-0.13" fill="#3c3c3c" stroke="#3c3c3c" stroke-width="0.12">0·048</text>
<text x="881.30" y="91.70" font-size="6.9" text-anchor="middle" letter-spacing="-0.13" fill="#3c3c3c" stroke="#3c3c3c" stroke-width="0.12">··</text>
<text x="929.20" y="91.70" font-size="6.9" text-anchor="middle" letter-spacing="-0.13" fill="#3c3c3c" stroke="#3c3c3c" stroke-width="0.12">··</text>
<text x="731.00" y="112.60" font-size="6.9" letter-spacing="-0.13" fill="#3c3c3c" stroke="#3c3c3c" stroke-width="0.12">Lactate dehydrogenase, U/L</text>
<text x="737.70" y="125.60" font-size="6.9" letter-spacing="-0.13" fill="#3c3c3c" stroke="#3c3c3c" stroke-width="0.12">≤245</text>
<text x="789.30" y="125.60" font-size="6.9" letter-spacing="-0.13" fill="#3c3c3c" stroke="#3c3c3c" stroke-width="0.12">1 (ref)</text>
<text x="846.50" y="125.60" font-size="6.9" text-anchor="middle" letter-spacing="-0.13" fill="#3c3c3c" stroke="#3c3c3c" stroke-width="0.12">··</text>
<text x="881.30" y="125.60" font-size="6.9" text-anchor="middle" letter-spacing="-0.13" fill="#3c3c3c" stroke="#3c3c3c" stroke-width="0.12">··</text>
<text x="929.20" y="125.60" font-size="6.9" text-anchor="middle" letter-spacing="-0.13" fill="#3c3c3c" stroke="#3c3c3c" stroke-width="0.12">··</text>
<text x="737.70" y="138.00" font-size="6.9" letter-spacing="-0.13" fill="#3c3c3c" stroke="#3c3c3c" stroke-width="0.12">&gt;245</text>
<text x="785.59" y="138.00" font-size="6.9" letter-spacing="-0.13" fill="#3c3c3c" stroke="#3c3c3c" stroke-width="0.12">45·43</text>
<text x="784.00" y="147.30" font-size="6.9" letter-spacing="-0.26" fill="#3c3c3c" stroke="#3c3c3c" stroke-width="0.12">(6·10–338·44)</text>
<text x="841.00" y="138.00" font-size="6.9" letter-spacing="-0.13" fill="#3c3c3c" stroke="#3c3c3c" stroke-width="0.12">0·0002</text>
<text x="881.30" y="138.00" font-size="6.9" text-anchor="middle" letter-spacing="-0.13" fill="#3c3c3c" stroke="#3c3c3c" stroke-width="0.12">··</text>
<text x="929.20" y="138.00" font-size="6.9" text-anchor="middle" letter-spacing="-0.13" fill="#3c3c3c" stroke="#3c3c3c" stroke-width="0.12">··</text>
<text x="731.00" y="158.60" font-size="6.9" letter-spacing="-0.13" fill="#3c3c3c" stroke="#3c3c3c" stroke-width="0.12">Creatine kinase, U/L</text>
<text x="737.70" y="171.40" font-size="6.9" letter-spacing="-0.13" fill="#3c3c3c" stroke="#3c3c3c" stroke-width="0.12">≤185</text>
<text x="789.30" y="171.40" font-size="6.9" letter-spacing="-0.13" fill="#3c3c3c" stroke="#3c3c3c" stroke-width="0.12">1 (ref)</text>
<text x="846.50" y="171.40" font-size="6.9" text-anchor="middle" letter-spacing="-0.13" fill="#3c3c3c" stroke="#3c3c3c" stroke-width="0.12">··</text>
<text x="881.30" y="171.40" font-size="6.9" text-anchor="middle" letter-spacing="-0.13" fill="#3c3c3c" stroke="#3c3c3c" stroke-width="0.12">··</text>
<text x="929.20" y="171.40" font-size="6.9" text-anchor="middle" letter-spacing="-0.13" fill="#3c3c3c" stroke="#3c3c3c" stroke-width="0.12">··</text>
<text x="737.70" y="183.60" font-size="6.9" letter-spacing="-0.13" fill="#3c3c3c" stroke="#3c3c3c" stroke-width="0.12">&gt;185</text>
<text x="789.30" y="183.60" font-size="6.9" letter-spacing="-0.13" fill="#3c3c3c" stroke="#3c3c3c" stroke-width="0.12">2·56</text>
<text x="784.00" y="192.90" font-size="6.9" letter-spacing="-0.26" fill="#3c3c3c" stroke="#3c3c3c" stroke-width="0.12">(1·03–6·36)</text>
<text x="841.00" y="183.60" font-size="6.9" letter-spacing="-0.13" fill="#3c3c3c" stroke="#3c3c3c" stroke-width="0.12">0·043</text>
<text x="881.30" y="183.60" font-size="6.9" text-anchor="middle" letter-spacing="-0.13" fill="#3c3c3c" stroke="#3c3c3c" stroke-width="0.12">··</text>
<text x="929.20" y="183.60" font-size="6.9" text-anchor="middle" letter-spacing="-0.13" fill="#3c3c3c" stroke="#3c3c3c" stroke-width="0.12">··</text>
<text x="731.00" y="205.40" font-size="6.9" letter-spacing="-0.13" fill="#3c3c3c" stroke="#3c3c3c" stroke-width="0.12">High-sensitivity cardiac troponin I, ng/mL</text>
<text x="737.70" y="217.40" font-size="6.9" letter-spacing="-0.13" fill="#3c3c3c" stroke="#3c3c3c" stroke-width="0.12">≤28</text>
<text x="789.30" y="217.40" font-size="6.9" letter-spacing="-0.13" fill="#3c3c3c" stroke="#3c3c3c" stroke-width="0.12">1 (ref)</text>
<text x="846.50" y="217.40" font-size="6.9" text-anchor="middle" letter-spacing="-0.13" fill="#3c3c3c" stroke="#3c3c3c" stroke-width="0.12">··</text>
<text x="881.30" y="217.40" font-size="6.9" text-anchor="middle" letter-spacing="-0.13" fill="#3c3c3c" stroke="#3c3c3c" stroke-width="0.12">··</text>
<text x="929.20" y="217.40" font-size="6.9" text-anchor="middle" letter-spacing="-0.13" fill="#3c3c3c" stroke="#3c3c3c" stroke-width="0.12">··</text>
<text x="737.70" y="230.00" font-size="6.9" letter-spacing="-0.13" fill="#3c3c3c" stroke="#3c3c3c" stroke-width="0.12">&gt;28</text>
<text x="785.59" y="230.00" font-size="6.9" letter-spacing="-0.13" fill="#3c3c3c" stroke="#3c3c3c" stroke-width="0.12">80·07</text>
<text x="784.00" y="239.30" font-size="6.9" letter-spacing="-0.26" fill="#3c3c3c" stroke="#3c3c3c" stroke-width="0.12">(10·34–620·36)</text>
<text x="837.40" y="230.00" font-size="6.9" letter-spacing="-0.13" fill="#3c3c3c" stroke="#3c3c3c" stroke-width="0.12">&lt;0·0001</text>
<text x="881.30" y="230.00" font-size="6.9" text-anchor="middle" letter-spacing="-0.13" fill="#3c3c3c" stroke="#3c3c3c" stroke-width="0.12">··</text>
<text x="929.20" y="230.00" font-size="6.9" text-anchor="middle" letter-spacing="-0.13" fill="#3c3c3c" stroke="#3c3c3c" stroke-width="0.12">··</text>
<text x="731.00" y="251.70" font-size="6.9" letter-spacing="-0.13" fill="#3c3c3c" stroke="#3c3c3c" stroke-width="0.12">D-dimer, µg/L</text>
<text x="737.70" y="263.60" font-size="6.9" letter-spacing="-0.13" fill="#3c3c3c" stroke="#3c3c3c" stroke-width="0.12">≤0·5</text>
<text x="789.30" y="263.60" font-size="6.9" letter-spacing="-0.13" fill="#3c3c3c" stroke="#3c3c3c" stroke-width="0.12">1 (ref)</text>
<text x="846.50" y="263.60" font-size="6.9" text-anchor="middle" letter-spacing="-0.13" fill="#3c3c3c" stroke="#3c3c3c" stroke-width="0.12">··</text>
<text x="876.00" y="263.60" font-size="6.9" letter-spacing="-0.13" fill="#3c3c3c" stroke="#3c3c3c" stroke-width="0.12">1 (ref)</text>
<text x="929.20" y="263.60" font-size="6.9" text-anchor="middle" letter-spacing="-0.13" fill="#3c3c3c" stroke="#3c3c3c" stroke-width="0.12">··</text>
<text x="737.70" y="276.20" font-size="6.9" letter-spacing="-0.13" fill="#3c3c3c" stroke="#3c3c3c" stroke-width="0.12">&gt; 0·5</text>
<text x="789.30" y="276.20" font-size="6.9" letter-spacing="-0.13" fill="#3c3c3c" stroke="#3c3c3c" stroke-width="0.12">1·96</text>
<text x="784.00" y="285.50" font-size="6.9" letter-spacing="-0.26" fill="#3c3c3c" stroke="#3c3c3c" stroke-width="0.12">(0·52–7·43)</text>
<text x="841.00" y="276.20" font-size="6.9" letter-spacing="-0.13" fill="#3c3c3c" stroke="#3c3c3c" stroke-width="0.12">0·32</text>
<text x="876.00" y="276.20" font-size="6.9" letter-spacing="-0.13" fill="#3c3c3c" stroke="#3c3c3c" stroke-width="0.12">2·14</text>
<text x="870.70" y="285.50" font-size="6.9" letter-spacing="-0.26" fill="#3c3c3c" stroke="#3c3c3c" stroke-width="0.12">(0·21–21·39)</text>
<text x="923.70" y="276.20" font-size="6.9" letter-spacing="-0.13" fill="#3c3c3c" stroke="#3c3c3c" stroke-width="0.12">0·52</text>
<text x="737.70" y="297.80" font-size="6.9" letter-spacing="-0.13" fill="#3c3c3c" stroke="#3c3c3c" stroke-width="0.12">&gt; 1</text>
<text x="785.59" y="297.80" font-size="6.9" letter-spacing="-0.13" fill="#3c3c3c" stroke="#3c3c3c" stroke-width="0.12">20·04</text>
<text x="784.00" y="307.10" font-size="6.9" letter-spacing="-0.26" fill="#3c3c3c" stroke="#3c3c3c" stroke-width="0.12">(6·52–61·56)</text>
<text x="837.40" y="297.80" font-size="6.9" letter-spacing="-0.13" fill="#3c3c3c" stroke="#3c3c3c" stroke-width="0.12">&lt;0·0001</text>
<text x="872.29" y="297.80" font-size="6.9" letter-spacing="-0.13" fill="#3c3c3c" stroke="#3c3c3c" stroke-width="0.12">18·42</text>
<text x="870.70" y="307.10" font-size="6.9" letter-spacing="-0.26" fill="#3c3c3c" stroke="#3c3c3c" stroke-width="0.12">(2·64–128·55)</text>
<text x="923.70" y="297.80" font-size="6.9" letter-spacing="-0.13" fill="#3c3c3c" stroke="#3c3c3c" stroke-width="0.12">0·0033</text>
<text x="731.00" y="318.60" font-size="6.9" letter-spacing="-0.13" fill="#3c3c3c" stroke="#3c3c3c" stroke-width="0.12">Prothrombin time, s</text>
<text x="737.70" y="331.40" font-size="6.9" letter-spacing="-0.13" fill="#3c3c3c" stroke="#3c3c3c" stroke-width="0.12">&lt;16</text>
<text x="789.30" y="331.40" font-size="6.9" letter-spacing="-0.13" fill="#3c3c3c" stroke="#3c3c3c" stroke-width="0.12">1 (ref)</text>
<text x="846.50" y="331.40" font-size="6.9" text-anchor="middle" letter-spacing="-0.13" fill="#3c3c3c" stroke="#3c3c3c" stroke-width="0.12">··</text>
<text x="881.30" y="331.40" font-size="6.9" text-anchor="middle" letter-spacing="-0.13" fill="#3c3c3c" stroke="#3c3c3c" stroke-width="0.12">··</text>
<text x="929.20" y="331.40" font-size="6.9" text-anchor="middle" letter-spacing="-0.13" fill="#3c3c3c" stroke="#3c3c3c" stroke-width="0.12">··</text>
<text x="737.70" y="343.60" font-size="6.9" letter-spacing="-0.13" fill="#3c3c3c" stroke="#3c3c3c" stroke-width="0.12">≥16</text>
<text x="789.30" y="343.60" font-size="6.9" letter-spacing="-0.13" fill="#3c3c3c" stroke="#3c3c3c" stroke-width="0.12">4·62</text>
<text x="784.00" y="352.90" font-size="6.9" letter-spacing="-0.26" fill="#3c3c3c" stroke="#3c3c3c" stroke-width="0.12">(1·29–16·50)</text>
<text x="841.00" y="343.60" font-size="6.9" letter-spacing="-0.13" fill="#3c3c3c" stroke="#3c3c3c" stroke-width="0.12">0·019</text>
<text x="881.30" y="343.60" font-size="6.9" text-anchor="middle" letter-spacing="-0.13" fill="#3c3c3c" stroke="#3c3c3c" stroke-width="0.12">··</text>
<text x="929.20" y="343.60" font-size="6.9" text-anchor="middle" letter-spacing="-0.13" fill="#3c3c3c" stroke="#3c3c3c" stroke-width="0.12">··</text>
<text x="731.00" y="365.40" font-size="6.9" letter-spacing="-0.13" fill="#3c3c3c" stroke="#3c3c3c" stroke-width="0.12">Serum ferritin, µg/L</text>
<text x="737.70" y="377.40" font-size="6.9" letter-spacing="-0.13" fill="#3c3c3c" stroke="#3c3c3c" stroke-width="0.12">≤300</text>
<text x="789.30" y="377.40" font-size="6.9" letter-spacing="-0.13" fill="#3c3c3c" stroke="#3c3c3c" stroke-width="0.12">1 (ref)</text>
<text x="846.50" y="377.40" font-size="6.9" text-anchor="middle" letter-spacing="-0.13" fill="#3c3c3c" stroke="#3c3c3c" stroke-width="0.12">··</text>
<text x="881.30" y="377.40" font-size="6.9" text-anchor="middle" letter-spacing="-0.13" fill="#3c3c3c" stroke="#3c3c3c" stroke-width="0.12">··</text>
<text x="929.20" y="377.40" font-size="6.9" text-anchor="middle" letter-spacing="-0.13" fill="#3c3c3c" stroke="#3c3c3c" stroke-width="0.12">··</text>
<text x="737.70" y="389.80" font-size="6.9" letter-spacing="-0.13" fill="#3c3c3c" stroke="#3c3c3c" stroke-width="0.12">&gt;300</text>
<text x="789.30" y="389.80" font-size="6.9" letter-spacing="-0.13" fill="#3c3c3c" stroke="#3c3c3c" stroke-width="0.12">9·10</text>
<text x="784.00" y="399.10" font-size="6.9" letter-spacing="-0.26" fill="#3c3c3c" stroke="#3c3c3c" stroke-width="0.12">(2·04–40·58)</text>
<text x="841.00" y="389.80" font-size="6.9" letter-spacing="-0.13" fill="#3c3c3c" stroke="#3c3c3c" stroke-width="0.12">0·0038</text>
<text x="881.30" y="389.80" font-size="6.9" text-anchor="middle" letter-spacing="-0.13" fill="#3c3c3c" stroke="#3c3c3c" stroke-width="0.12">··</text>
<text x="929.20" y="389.80" font-size="6.9" text-anchor="middle" letter-spacing="-0.13" fill="#3c3c3c" stroke="#3c3c3c" stroke-width="0.12">··</text>
<text x="731.00" y="411.40" font-size="6.9" letter-spacing="-0.13" fill="#3c3c3c" stroke="#3c3c3c" stroke-width="0.12">IL-6, pg/mL*</text>
<text x="789.30" y="411.40" font-size="6.9" letter-spacing="-0.13" fill="#3c3c3c" stroke="#3c3c3c" stroke-width="0.12">1·12</text>
<text x="784.00" y="420.70" font-size="6.9" letter-spacing="-0.26" fill="#3c3c3c" stroke="#3c3c3c" stroke-width="0.12">(1·03–1·23)</text>
<text x="841.00" y="411.40" font-size="6.9" letter-spacing="-0.13" fill="#3c3c3c" stroke="#3c3c3c" stroke-width="0.12">0·0080</text>
<text x="881.30" y="411.40" font-size="6.9" text-anchor="middle" letter-spacing="-0.13" fill="#3c3c3c" stroke="#3c3c3c" stroke-width="0.12">··</text>
<text x="929.20" y="411.40" font-size="6.9" text-anchor="middle" letter-spacing="-0.13" fill="#3c3c3c" stroke="#3c3c3c" stroke-width="0.12">··</text>
<text x="731.00" y="432.60" font-size="6.9" letter-spacing="-0.13" fill="#3c3c3c" stroke="#3c3c3c" stroke-width="0.12">Procalcitonin,</text>
<text x="731.00" y="441.85" font-size="6.9" letter-spacing="-0.13" fill="#3c3c3c" stroke="#3c3c3c" stroke-width="0.12">ng/mL*</text>
<text x="785.59" y="432.60" font-size="6.9" letter-spacing="-0.13" fill="#3c3c3c" stroke="#3c3c3c" stroke-width="0.12">13·75</text>
<text x="784.00" y="441.90" font-size="6.9" letter-spacing="-0.26" fill="#3c3c3c" stroke="#3c3c3c" stroke-width="0.12">(1·81–104·40)</text>
<text x="841.00" y="432.60" font-size="6.9" letter-spacing="-0.13" fill="#3c3c3c" stroke="#3c3c3c" stroke-width="0.12">0·011</text>
<text x="881.30" y="432.60" font-size="6.9" text-anchor="middle" letter-spacing="-0.13" fill="#3c3c3c" stroke="#3c3c3c" stroke-width="0.12">··</text>
<text x="929.20" y="432.60" font-size="6.9" text-anchor="middle" letter-spacing="-0.13" fill="#3c3c3c" stroke="#3c3c3c" stroke-width="0.12">··</text>
<text x="728.4" y="457.30" font-size="6.4" fill="#3c3c3c" textLength="217.4" lengthAdjust="spacing">OR=odds ratio. SOFA=Sequential Organ Failure Assessment. qSOFA=Quick SOFA.</text>
<text x="728.4" y="466.70" font-size="6.4" fill="#3c3c3c" textLength="190.8" lengthAdjust="spacing">ALT=alanine aminotransferase. IL-6=interleukin-6. *Per 1 unit increase.</text>
<text x="728.4" y="483.70" font-size="6.8" fill="#2d2d2d" font-weight="bold" textLength="162.8" lengthAdjust="spacing"><tspan font-style="italic">Table 3:</tspan> Risk factors associated with in-hospital death</text>
</g>
<g filter="url(#blur2)">
<path d="M4.4 120.8H62.2V111L82.2 130.2L62.2 149.6V139.8H4.4Z" fill="#c00000" stroke="#9a0c0c" stroke-width="0.6"/>
<path d="M171.7 389H229.5V379.6L249.4 398.8L229.5 418V408.4H171.7Z" fill="#c00000" stroke="#9a0c0c" stroke-width="0.6"/>
</g>
<g filter="url(#blur2)">
<text x="26.4" y="530.7" font-size="16.8" fill="#000" stroke="#000" stroke-width="0.35" textLength="34.0" lengthAdjust="spacingAndGlyphs">Zhou</text>
<text x="64.4" y="530.7" font-size="16.8" fill="#000" stroke="#000" stroke-width="0.35" font-style="italic" textLength="28.0" lengthAdjust="spacingAndGlyphs">et al</text>
<text x="93.0" y="530.7" font-size="16.8" fill="#000" stroke="#000" stroke-width="0.35" textLength="3.6" lengthAdjust="spacingAndGlyphs">.</text>
<text x="103.6" y="530.7" font-size="16.8" fill="#000" stroke="#000" stroke-width="0.35" font-style="italic" font-weight="bold" textLength="44.4" lengthAdjust="spacingAndGlyphs">Lancet</text>
<text x="148.4" y="530.7" font-size="16.8" fill="#000" stroke="#000" stroke-width="0.35" textLength="3.6" lengthAdjust="spacingAndGlyphs">.</text>
<text x="159.6" y="530.7" font-size="16.8" fill="#000" stroke="#000" stroke-width="0.35" textLength="36.4" lengthAdjust="spacingAndGlyphs">2020;</text>
<text x="201.0" y="530.7" font-size="16.8" fill="#000" stroke="#000" stroke-width="0.35" textLength="123.8" lengthAdjust="spacingAndGlyphs">doi.org/10.1016/</text>
<text x="331.4" y="530.7" font-size="16.8" fill="#000" stroke="#000" stroke-width="0.35" textLength="178.0" lengthAdjust="spacingAndGlyphs">S0140-6736(20)30566-3.</text>
</g>
</svg></body></html>
